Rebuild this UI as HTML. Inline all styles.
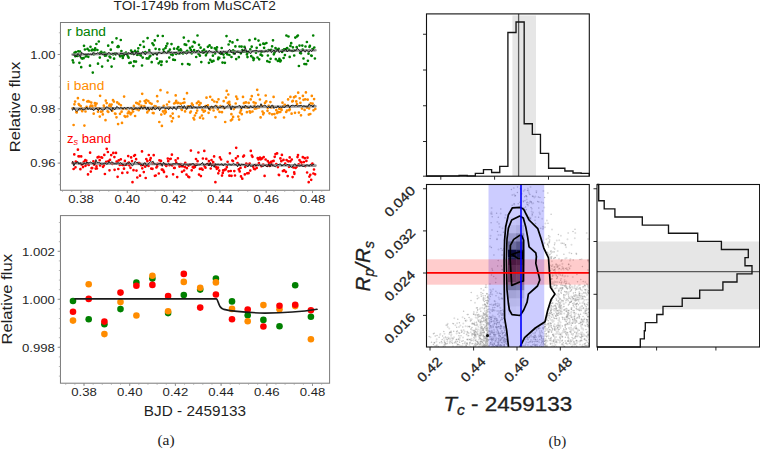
<!DOCTYPE html>
<html><head><meta charset="utf-8"><title>figure</title>
<style>
html,body{margin:0;padding:0;background:#fff;}
body{width:760px;height:449px;overflow:hidden;font-family:"Liberation Sans",sans-serif;}
svg{display:block;}
</style></head><body>
<svg width="760" height="449" viewBox="0 0 760 449">
<rect width="760" height="449" fill="#fff"/>
<path d="M72.7 60.3h0M73.4 62.5h0M74.5 52.9h0M75.3 56.2h0M75.8 52.1h0M76.6 55.5h0M77.6 56.0h0M78.3 51.3h0M79.4 62.8h0M80.0 51.5h0M81.2 67.2h0M81.6 58.2h0M82.3 58.6h0M83.6 58.2h0M84.0 45.8h0M84.9 49.5h0M85.8 56.5h0M86.4 55.2h0M87.5 48.9h0M88.3 56.8h0M89.0 50.5h0M90.0 65.7h0M90.5 46.8h0M91.7 50.4h0M92.4 49.7h0M92.8 72.6h0M93.8 54.3h0M94.7 50.2h0M95.2 48.4h0M96.4 44.0h0M97.4 50.0h0M98.0 63.7h0M98.8 41.5h0M99.8 57.6h0M100.3 52.8h0M101.3 51.9h0M102.1 66.6h0M102.7 53.4h0M103.5 53.2h0M104.4 52.7h0M105.0 55.7h0M106.2 55.5h0M106.6 54.0h0M107.9 60.6h0M108.2 45.7h0M109.5 56.5h0M110.3 57.4h0M110.8 49.7h0M111.6 66.6h0M112.3 42.4h0M113.1 54.3h0M114.1 58.7h0M115.0 53.7h0M115.7 54.3h0M116.5 38.3h0M117.5 46.9h0M118.2 46.1h0M118.7 46.8h0M120.1 56.3h0M120.8 40.0h0M121.4 51.1h0M122.3 55.5h0M122.8 57.9h0M123.6 55.5h0M124.6 53.7h0M125.2 53.6h0M126.0 52.5h0M127.3 54.7h0M128.0 56.6h0M128.6 57.7h0M129.4 63.0h0M130.7 62.7h0M131.1 50.6h0M131.7 53.7h0M132.7 52.3h0M133.4 66.1h0M134.1 61.4h0M135.0 50.9h0M136.0 61.6h0M137.1 54.8h0M137.9 51.6h0M138.3 48.3h0M139.0 54.5h0M140.2 45.0h0M140.8 55.4h0M142.0 65.5h0M142.7 57.6h0M143.4 41.5h0M143.9 46.9h0M144.6 52.5h0M145.4 52.2h0M146.7 58.4h0M147.6 38.1h0M148.5 58.4h0M149.3 50.0h0M149.6 56.7h0M150.4 55.8h0M151.7 62.2h0M152.4 43.3h0M153.2 54.3h0M153.6 45.1h0M154.8 40.4h0M155.6 48.8h0M156.4 53.6h0M157.0 58.7h0M157.8 35.8h0M158.6 63.3h0M159.3 49.4h0M160.1 61.5h0M161.3 64.9h0M161.7 61.7h0M162.8 36.0h0M163.4 49.5h0M164.0 51.8h0M165.5 48.0h0M166.3 46.1h0M166.7 61.6h0M167.4 43.6h0M168.2 51.5h0M169.3 57.6h0M169.9 49.6h0M171.1 54.5h0M171.5 44.1h0M172.7 55.1h0M173.2 59.7h0M174.1 48.7h0M174.9 60.0h0M175.5 53.5h0M176.2 53.9h0M177.3 48.7h0M178.3 47.0h0M178.9 50.5h0M179.8 53.3h0M180.6 49.4h0M181.2 50.6h0M182.2 64.1h0M183.0 53.5h0M183.8 37.6h0M184.7 44.4h0M185.5 52.2h0M186.2 44.9h0M187.3 50.9h0M188.0 64.0h0M188.5 41.1h0M189.5 64.6h0M190.0 47.9h0M190.8 49.9h0M191.7 53.3h0M192.4 46.6h0M193.8 41.9h0M194.1 50.2h0M194.9 42.6h0M196.2 57.0h0M197.0 51.3h0M197.5 35.5h0M198.6 53.9h0M199.0 44.8h0M199.9 55.7h0M200.6 47.7h0M201.3 62.1h0M202.5 51.0h0M203.1 52.7h0M204.1 49.7h0M205.2 52.0h0M205.9 55.3h0M206.3 51.6h0M207.0 53.1h0M207.9 46.8h0M208.9 62.8h0M209.6 45.4h0M210.3 59.8h0M211.5 47.7h0M211.9 61.7h0M212.9 55.7h0M213.5 60.9h0M214.8 48.3h0M215.1 53.5h0M216.4 50.0h0M217.0 47.4h0M218.1 59.2h0M218.5 57.6h0M219.3 57.9h0M220.0 53.0h0M220.9 53.7h0M221.7 48.0h0M222.5 62.6h0M223.5 54.6h0M224.0 57.5h0M224.9 62.8h0M225.9 52.8h0M226.5 36.1h0M227.3 54.3h0M228.6 44.5h0M229.4 55.0h0M229.9 41.3h0M231.1 51.3h0M231.5 57.0h0M232.5 42.4h0M233.1 50.3h0M233.8 53.5h0M234.5 51.3h0M235.4 46.4h0M236.2 59.1h0M237.4 40.0h0M237.9 51.8h0M238.8 57.2h0M239.5 46.5h0M240.8 53.3h0M241.6 46.6h0M242.4 50.0h0M242.8 51.3h0M243.7 51.7h0M244.5 46.9h0M245.4 51.4h0M245.8 51.2h0M246.9 54.4h0M247.5 57.1h0M248.4 52.2h0M249.5 40.2h0M250.3 49.3h0M251.2 56.2h0M251.7 46.7h0M253.0 57.8h0M253.5 60.1h0M254.0 58.6h0M255.2 38.9h0M256.0 52.7h0M256.7 47.8h0M257.5 57.5h0M258.5 40.6h0M259.2 59.3h0M260.1 44.8h0M260.6 54.7h0M261.5 51.9h0M262.1 55.6h0M263.3 43.7h0M264.1 47.8h0M264.5 44.0h0M265.8 51.0h0M266.4 43.0h0M267.3 61.2h0M267.9 55.5h0M268.6 50.0h0M269.5 62.0h0M270.6 58.8h0M271.2 49.8h0M272.1 46.3h0M273.0 40.3h0M273.8 54.3h0M274.4 52.7h0M275.5 48.0h0M275.8 59.2h0M276.7 49.7h0M277.9 60.9h0M278.7 48.8h0M279.4 58.8h0M280.2 61.4h0M280.8 60.6h0M282.1 52.0h0M282.6 50.3h0M283.6 58.0h0M284.1 49.3h0M284.9 55.1h0M285.9 49.2h0M286.4 35.5h0M287.2 48.2h0M288.5 36.5h0M289.2 49.9h0M289.7 56.9h0M290.4 45.9h0M291.2 43.2h0M292.2 51.0h0M292.9 47.3h0M294.2 55.5h0M294.4 50.6h0M295.3 37.6h0M296.7 47.2h0M297.1 36.3h0M297.9 35.5h0M298.9 66.0h0M299.5 45.6h0M300.1 52.9h0M301.0 53.3h0M302.3 45.6h0M302.7 49.6h0M303.5 58.5h0M304.4 64.0h0M305.5 46.5h0M306.2 64.2h0M306.9 42.0h0M307.9 60.8h0M308.5 53.7h0M309.5 46.9h0M309.9 45.9h0M311.2 55.6h0M311.7 55.8h0M312.5 49.0h0M313.2 35.5h0M314.3 47.5h0M314.9 58.5h0" stroke="#008000" stroke-width="2.7" stroke-linecap="round" fill="none"/>
<line x1="72.5" y1="54.5" x2="315.5" y2="50.2" stroke="#808080" stroke-width="2.6" stroke-opacity="0.8" stroke-linecap="round"/>
<polyline points="72.5 54.8 73.8 55.1 75.1 55.1 76.4 56.8 77.7 53.6 79.0 54.4 80.3 57.6 81.6 52.2 82.9 53.7 84.2 54.5 85.5 54.4 86.8 54.7 88.1 53.9 89.4 54.6 90.7 54.2 92.0 55.0 93.3 52.0 94.6 53.1 95.9 54.1 97.2 52.9 98.5 52.8 99.8 54.7 101.1 53.2 102.4 54.7 103.7 54.8 105.0 54.3 106.3 54.5 107.6 53.8 108.9 52.2 110.2 53.8 111.5 54.3 112.8 53.2 114.1 53.6 115.4 54.6 116.7 52.7 118.0 54.4 119.3 55.8 120.6 53.0 121.9 53.8 123.2 53.4 124.5 55.4 125.8 53.9 127.1 54.6 128.4 52.7 129.7 53.5 131.0 53.5 132.3 51.4 133.6 55.1 134.9 54.4 136.2 51.4 137.5 54.2 138.8 53.2 140.1 53.8 141.4 53.7 142.7 51.5 144.0 53.0 145.3 54.9 146.6 52.5 147.9 52.0 149.2 51.6 150.5 51.7 151.8 53.5 153.1 55.0 154.4 53.5 155.7 53.3 157.0 55.6 158.3 52.4 159.6 52.2 160.9 53.5 162.2 53.5 163.5 51.7 164.8 51.5 166.1 53.2 167.4 53.1 168.7 51.3 170.0 52.5 171.3 52.1 172.6 53.3 173.9 52.6 175.2 52.6 176.5 52.3 177.8 53.8 179.1 54.2 180.4 52.2 181.7 53.5 183.0 51.7 184.3 52.6 185.6 53.4 186.9 54.2 188.2 52.0 189.5 52.3 190.8 52.6 192.1 50.7 193.4 52.4 194.7 51.6 196.0 52.7 197.3 51.0 198.6 50.0 199.9 52.3 201.2 52.5 202.5 51.6 203.8 53.2 205.1 51.8 206.4 51.4 207.7 52.7 209.0 50.3 210.3 51.3 211.6 52.0 212.9 53.0 214.2 51.8 215.5 52.3 216.8 51.2 218.1 52.3 219.4 53.8 220.7 51.1 222.0 54.6 223.3 51.1 224.6 51.8 225.9 52.0 227.2 52.9 228.5 50.3 229.8 49.3 231.1 52.4 232.4 52.6 233.7 52.4 235.0 54.6 236.3 51.8 237.6 51.9 238.9 52.6 240.2 52.0 241.5 53.4 242.8 50.1 244.1 51.0 245.4 47.5 246.7 52.4 248.0 51.0 249.3 52.4 250.6 53.8 251.9 51.3 253.2 51.0 254.5 50.7 255.8 50.3 257.1 50.5 258.4 51.9 259.7 51.2 261.0 51.2 262.3 50.9 263.6 52.2 264.9 51.7 266.2 50.9 267.5 51.8 268.8 50.9 270.1 49.7 271.4 52.7 272.7 51.5 274.0 49.8 275.3 52.2 276.6 51.3 277.9 49.1 279.2 52.7 280.5 51.2 281.8 51.8 283.1 51.0 284.4 50.6 285.7 48.9 287.0 51.8 288.3 50.7 289.6 50.3 290.9 51.0 292.2 50.7 293.5 51.4 294.8 50.1 296.1 50.5 297.4 48.1 298.7 50.0 300.0 51.3 301.3 52.0 302.6 50.0 303.9 50.3 305.2 52.2 306.5 50.0 307.8 51.2 309.1 52.2 310.4 50.3 311.7 51.7 313.0 49.4 314.3 50.5" fill="none" stroke="#111" stroke-width="0.9" stroke-linejoin="round"/>
<path d="M72.7 108.3h0M73.6 125.0h0M74.4 104.3h0M75.1 101.6h0M76.3 112.1h0M76.7 112.4h0M77.9 98.2h0M78.7 104.0h0M79.2 104.9h0M80.0 109.3h0M80.7 106.0h0M81.9 108.7h0M82.2 111.2h0M83.4 100.0h0M84.4 125.6h0M85.3 108.4h0M85.5 111.5h0M86.6 106.8h0M87.2 101.5h0M88.2 101.2h0M89.2 101.6h0M90.1 106.8h0M90.9 105.6h0M91.3 102.6h0M92.4 105.9h0M92.9 108.7h0M93.7 113.7h0M94.9 103.2h0M95.4 105.7h0M96.6 103.6h0M97.3 108.3h0M98.0 111.7h0M98.7 108.4h0M99.8 116.6h0M100.1 95.8h0M101.0 111.7h0M102.3 111.5h0M102.8 114.4h0M103.8 105.7h0M104.4 107.7h0M105.5 120.2h0M105.8 100.7h0M106.7 103.1h0M107.6 111.3h0M108.3 112.0h0M109.3 105.8h0M109.8 104.7h0M110.8 106.5h0M111.6 104.5h0M112.3 110.8h0M113.0 100.2h0M113.9 101.6h0M115.0 113.6h0M115.5 113.8h0M116.5 117.3h0M117.2 102.4h0M118.1 124.1h0M119.0 103.9h0M120.0 113.8h0M120.9 105.3h0M121.6 111.7h0M122.0 122.9h0M123.0 108.8h0M124.1 96.6h0M124.6 116.1h0M125.3 116.8h0M126.4 109.0h0M127.4 116.3h0M127.8 113.3h0M128.7 111.6h0M129.5 112.6h0M130.6 114.3h0M131.3 113.2h0M132.3 109.3h0M133.1 111.5h0M133.9 105.9h0M134.7 108.4h0M135.1 116.0h0M136.2 102.8h0M136.6 109.2h0M137.6 103.4h0M138.7 110.2h0M139.1 104.3h0M140.0 101.5h0M140.6 107.3h0M141.5 105.8h0M142.2 93.8h0M143.3 108.2h0M144.3 106.2h0M144.7 101.1h0M145.8 103.0h0M146.4 100.2h0M147.3 112.4h0M148.3 101.1h0M148.7 110.4h0M149.9 103.0h0M150.8 108.3h0M151.6 103.9h0M152.2 109.1h0M152.8 113.0h0M153.6 113.2h0M154.6 106.0h0M155.5 107.8h0M156.0 106.7h0M157.1 96.2h0M157.6 101.3h0M159.0 107.7h0M159.3 122.0h0M160.5 90.2h0M161.3 114.6h0M161.9 125.9h0M163.0 111.4h0M163.7 105.8h0M164.6 113.6h0M165.3 110.4h0M165.8 112.2h0M167.0 104.5h0M167.4 92.5h0M168.2 107.6h0M169.1 101.8h0M169.7 107.6h0M170.6 116.2h0M171.8 121.3h0M172.7 113.6h0M173.0 118.2h0M174.1 103.5h0M175.1 102.9h0M175.7 95.4h0M176.2 100.9h0M177.6 103.1h0M178.3 102.8h0M178.8 116.6h0M179.7 107.2h0M180.7 103.7h0M181.5 109.2h0M181.9 109.9h0M183.1 103.0h0M184.1 99.0h0M184.5 102.5h0M185.1 111.4h0M186.3 108.4h0M187.0 93.2h0M187.6 106.5h0M188.5 106.8h0M189.1 106.4h0M190.2 112.6h0M190.9 111.5h0M191.9 103.7h0M192.8 105.1h0M193.5 118.1h0M194.2 119.5h0M194.9 115.5h0M196.2 113.0h0M196.9 103.2h0M197.2 110.6h0M198.5 101.7h0M199.3 105.1h0M200.0 117.7h0M200.6 103.2h0M201.9 115.5h0M202.4 109.7h0M203.1 118.5h0M203.7 111.7h0M204.9 110.9h0M205.5 106.1h0M206.5 97.7h0M207.5 107.0h0M207.9 105.3h0M208.6 112.8h0M210.0 109.6h0M210.2 96.8h0M211.6 107.1h0M212.3 99.8h0M212.9 107.8h0M213.6 110.5h0M214.3 101.5h0M215.5 117.1h0M216.4 106.0h0M217.0 102.1h0M217.8 109.3h0M218.5 99.3h0M219.5 111.9h0M220.5 106.2h0M220.7 106.9h0M222.0 112.2h0M223.0 107.1h0M223.7 101.2h0M224.2 108.2h0M225.2 122.0h0M226.0 97.6h0M226.7 90.9h0M227.8 102.9h0M228.3 94.5h0M229.3 101.9h0M229.8 104.7h0M230.9 120.4h0M231.4 114.2h0M232.1 119.4h0M233.1 116.9h0M233.8 109.1h0M234.9 107.5h0M235.7 103.5h0M236.2 96.6h0M237.3 98.9h0M238.3 116.6h0M239.1 119.6h0M240.0 112.6h0M240.8 110.7h0M241.1 109.9h0M241.8 114.2h0M243.0 96.9h0M243.9 103.2h0M244.3 102.9h0M245.1 107.2h0M246.0 102.4h0M246.9 112.2h0M247.6 107.7h0M248.7 102.9h0M249.7 111.4h0M250.2 112.6h0M250.7 99.4h0M251.8 96.2h0M252.5 111.5h0M253.6 102.3h0M254.5 105.8h0M254.8 108.7h0M255.6 103.2h0M256.5 108.3h0M257.2 89.8h0M258.3 94.8h0M258.9 107.5h0M259.9 99.5h0M260.6 117.4h0M261.8 105.9h0M262.5 111.5h0M263.2 114.3h0M263.7 113.0h0M265.0 102.9h0M265.7 95.5h0M266.3 101.3h0M267.5 110.8h0M267.8 108.0h0M268.7 105.8h0M269.5 113.3h0M270.4 102.1h0M271.5 107.5h0M272.1 114.3h0M273.1 106.9h0M273.6 96.9h0M274.4 114.1h0M275.4 117.6h0M276.3 110.2h0M277.1 113.1h0M277.8 112.0h0M278.8 112.1h0M279.2 108.7h0M280.3 112.0h0M281.2 108.9h0M281.6 109.9h0M282.5 102.7h0M283.3 106.1h0M284.0 117.5h0M284.8 104.9h0M286.2 112.0h0M287.0 110.6h0M287.7 105.8h0M288.1 99.4h0M289.2 110.2h0M289.8 109.4h0M290.4 96.9h0M291.6 113.7h0M292.3 101.4h0M292.9 100.9h0M294.0 97.3h0M295.0 112.8h0M295.5 96.4h0M296.3 101.4h0M297.0 104.1h0M298.2 92.7h0M298.9 112.6h0M299.7 98.3h0M300.4 102.8h0M301.0 115.3h0M302.0 108.6h0M302.9 95.9h0M303.5 99.8h0M304.6 109.9h0M305.2 99.3h0M305.9 92.4h0M307.0 107.6h0M307.7 99.7h0M308.8 114.6h0M309.1 108.4h0M310.3 114.0h0M310.7 103.3h0M311.8 95.9h0M312.6 103.6h0M313.5 110.3h0M314.1 99.1h0M315.3 108.9h0" stroke="#ff8c00" stroke-width="2.7" stroke-linecap="round" fill="none"/>
<line x1="72.5" y1="108.8" x2="315.5" y2="106.3" stroke="#808080" stroke-width="2.6" stroke-opacity="0.8" stroke-linecap="round"/>
<polyline points="72.5 110.5 73.8 107.3 75.1 110.0 76.4 111.1 77.7 111.1 79.0 108.5 80.3 109.0 81.6 108.5 82.9 109.8 84.2 109.9 85.5 108.8 86.8 107.1 88.1 109.5 89.4 108.1 90.7 109.3 92.0 108.9 93.3 110.5 94.6 109.9 95.9 108.0 97.2 108.9 98.5 110.6 99.8 107.9 101.1 109.0 102.4 109.9 103.7 109.9 105.0 109.1 106.3 106.9 107.6 107.0 108.9 108.7 110.2 108.9 111.5 111.3 112.8 107.4 114.1 109.7 115.4 109.2 116.7 106.4 118.0 107.4 119.3 108.5 120.6 107.7 121.9 108.1 123.2 108.8 124.5 107.3 125.8 108.8 127.1 107.5 128.4 107.6 129.7 108.8 131.0 107.5 132.3 108.5 133.6 110.0 134.9 108.2 136.2 108.0 137.5 109.0 138.8 107.7 140.1 109.3 141.4 106.6 142.7 108.8 144.0 107.5 145.3 107.1 146.6 110.1 147.9 107.0 149.2 110.0 150.5 108.8 151.8 109.7 153.1 106.8 154.4 109.3 155.7 109.6 157.0 107.8 158.3 107.8 159.6 110.7 160.9 108.1 162.2 107.4 163.5 107.1 164.8 108.4 166.1 108.2 167.4 108.0 168.7 109.8 170.0 107.4 171.3 108.3 172.6 109.4 173.9 106.6 175.2 108.9 176.5 109.8 177.8 106.2 179.1 106.4 180.4 106.5 181.7 105.6 183.0 108.2 184.3 105.5 185.6 108.2 186.9 109.3 188.2 105.8 189.5 107.2 190.8 105.4 192.1 108.5 193.4 106.7 194.7 107.2 196.0 107.6 197.3 108.1 198.6 107.1 199.9 107.5 201.2 106.8 202.5 107.6 203.8 106.1 205.1 107.5 206.4 105.2 207.7 106.8 209.0 109.6 210.3 107.5 211.6 105.9 212.9 107.7 214.2 106.2 215.5 105.4 216.8 106.5 218.1 108.1 219.4 107.7 220.7 107.2 222.0 106.2 223.3 106.0 224.6 108.8 225.9 107.5 227.2 106.1 228.5 104.8 229.8 105.6 231.1 110.0 232.4 105.8 233.7 107.1 235.0 107.4 236.3 106.9 237.6 106.8 238.9 105.5 240.2 105.9 241.5 109.0 242.8 106.2 244.1 108.0 245.4 105.1 246.7 106.7 248.0 107.3 249.3 108.2 250.6 105.7 251.9 107.6 253.2 107.4 254.5 106.1 255.8 107.5 257.1 105.9 258.4 106.0 259.7 106.9 261.0 103.7 262.3 106.7 263.6 105.7 264.9 105.1 266.2 106.3 267.5 107.7 268.8 106.3 270.1 108.2 271.4 105.4 272.7 105.2 274.0 108.5 275.3 107.2 276.6 107.8 277.9 105.7 279.2 107.6 280.5 107.0 281.8 107.4 283.1 106.7 284.4 108.0 285.7 105.9 287.0 105.5 288.3 104.9 289.6 107.9 290.9 105.7 292.2 105.3 293.5 105.4 294.8 106.0 296.1 105.0 297.4 106.2 298.7 105.8 300.0 105.8 301.3 105.3 302.6 106.5 303.9 105.9 305.2 106.5 306.5 106.7 307.8 106.8 309.1 103.8 310.4 105.7 311.7 105.4 313.0 107.2 314.3 104.5" fill="none" stroke="#111" stroke-width="0.9" stroke-linejoin="round"/>
<path d="M72.9 162.9h0M73.6 169.0h0M74.3 154.4h0M75.5 167.3h0M75.8 161.5h0M76.6 162.4h0M77.9 149.7h0M78.5 156.3h0M79.0 156.4h0M80.4 169.2h0M81.2 156.4h0M81.5 164.4h0M82.6 164.2h0M83.0 167.1h0M83.8 161.9h0M85.3 160.2h0M85.5 165.8h0M86.3 160.7h0M87.5 163.9h0M88.0 174.4h0M88.7 165.0h0M90.1 152.7h0M90.8 171.6h0M91.6 168.2h0M92.2 168.1h0M93.4 161.3h0M94.0 164.6h0M94.8 163.5h0M95.7 168.6h0M96.5 166.3h0M96.9 168.5h0M97.6 157.4h0M98.7 156.9h0M99.7 160.2h0M100.1 165.4h0M101.3 157.3h0M102.1 157.7h0M103.0 166.8h0M103.9 165.4h0M104.3 154.9h0M104.9 174.0h0M106.2 161.8h0M106.7 148.8h0M107.9 152.0h0M108.5 161.0h0M109.5 170.3h0M110.0 159.9h0M111.2 155.1h0M111.9 163.5h0M112.4 164.0h0M113.3 152.9h0M114.4 157.1h0M114.6 169.8h0M116.0 152.9h0M116.6 161.7h0M117.6 176.8h0M118.3 169.0h0M118.7 160.4h0M119.8 165.0h0M120.8 159.3h0M121.7 164.6h0M122.3 172.9h0M123.0 165.1h0M124.0 168.7h0M124.9 160.9h0M125.7 164.5h0M126.5 164.7h0M127.4 172.6h0M128.2 156.1h0M128.8 162.7h0M129.3 165.3h0M130.5 167.8h0M131.1 157.4h0M132.0 161.1h0M132.5 182.2h0M133.5 170.2h0M134.1 155.8h0M135.0 155.0h0M136.1 159.2h0M136.5 170.6h0M137.3 177.5h0M138.4 163.0h0M139.3 163.0h0M140.0 175.7h0M141.2 165.2h0M142.0 151.4h0M142.3 168.3h0M143.1 165.0h0M143.8 172.1h0M145.2 166.7h0M145.7 178.0h0M146.3 159.1h0M147.4 161.2h0M148.5 166.0h0M148.8 155.0h0M150.1 160.1h0M150.7 158.2h0M151.2 168.6h0M152.5 168.8h0M152.7 163.7h0M153.7 155.2h0M154.9 175.8h0M155.7 175.5h0M156.4 167.5h0M157.2 166.3h0M157.6 163.8h0M158.8 173.5h0M159.4 160.3h0M160.4 164.2h0M161.0 160.9h0M161.8 169.6h0M162.5 169.6h0M163.4 170.5h0M164.0 172.1h0M165.3 164.7h0M166.3 165.9h0M166.6 176.6h0M167.8 158.6h0M168.2 161.2h0M169.5 165.2h0M170.2 159.0h0M170.7 158.8h0M171.9 154.7h0M172.2 165.5h0M173.1 174.3h0M174.1 168.0h0M174.7 167.9h0M175.6 160.3h0M176.3 162.5h0M177.2 177.1h0M177.9 158.3h0M179.2 164.6h0M179.5 166.6h0M180.8 164.0h0M181.5 166.1h0M182.0 171.8h0M182.8 166.2h0M184.1 170.5h0M184.9 167.1h0M185.3 162.9h0M186.5 174.6h0M186.9 168.2h0M188.2 176.6h0M188.6 165.6h0M189.2 177.2h0M190.3 164.5h0M190.9 150.6h0M191.7 170.3h0M192.8 167.2h0M193.7 167.7h0M194.5 165.3h0M194.9 167.0h0M196.0 159.0h0M196.6 164.6h0M197.6 161.2h0M198.4 152.5h0M199.0 174.6h0M199.9 168.9h0M200.9 176.1h0M201.5 168.7h0M202.6 169.7h0M202.9 158.5h0M204.3 150.9h0M204.7 166.5h0M205.5 167.7h0M206.3 158.9h0M207.2 164.0h0M208.1 164.2h0M208.9 161.1h0M209.9 164.2h0M210.7 168.5h0M211.5 160.1h0M212.1 164.6h0M213.2 162.2h0M214.1 156.4h0M214.6 164.9h0M215.4 182.2h0M216.0 166.9h0M216.8 168.8h0M218.0 167.7h0M218.3 173.3h0M219.2 170.7h0M219.9 157.4h0M221.1 159.5h0M222.0 175.6h0M222.8 172.9h0M223.2 170.4h0M224.3 170.2h0M225.0 169.7h0M225.7 169.5h0M226.8 167.2h0M227.6 161.8h0M228.5 171.3h0M229.4 175.7h0M229.9 153.3h0M230.8 171.0h0M231.5 175.8h0M232.3 160.5h0M233.0 161.1h0M234.3 171.1h0M235.0 175.5h0M235.9 158.3h0M236.2 147.8h0M237.5 163.0h0M237.9 156.3h0M238.8 169.4h0M239.7 171.4h0M240.5 167.9h0M241.0 176.4h0M242.3 178.7h0M243.2 156.6h0M244.0 155.7h0M244.8 174.4h0M245.2 167.0h0M246.3 163.7h0M247.2 173.3h0M247.9 164.9h0M248.6 173.2h0M249.7 163.6h0M250.3 170.6h0M250.8 150.9h0M251.8 155.5h0M252.5 156.8h0M253.2 166.7h0M254.0 168.8h0M255.0 169.2h0M255.7 165.1h0M256.7 167.9h0M257.7 158.2h0M258.4 159.4h0M258.9 163.2h0M260.0 157.7h0M260.8 159.3h0M261.4 166.2h0M262.2 158.4h0M263.2 164.6h0M263.7 157.0h0M264.6 175.9h0M265.6 159.5h0M266.7 165.4h0M267.1 165.7h0M267.8 161.2h0M269.1 162.9h0M269.6 166.0h0M270.4 164.9h0M271.1 161.9h0M272.4 164.9h0M272.8 161.2h0M273.6 160.9h0M274.7 156.8h0M275.5 154.1h0M276.3 164.0h0M277.1 153.4h0M277.9 167.1h0M278.8 174.8h0M279.1 175.1h0M280.4 158.4h0M281.3 161.2h0M281.9 154.9h0M282.9 171.1h0M283.5 159.9h0M284.2 170.4h0M285.2 163.5h0M285.9 171.8h0M286.6 160.1h0M287.7 176.1h0M288.3 161.3h0M289.0 166.8h0M289.7 157.4h0M290.4 161.3h0M291.8 159.5h0M292.6 177.1h0M293.4 167.4h0M294.2 172.3h0M294.4 173.8h0M295.6 168.0h0M296.7 166.7h0M297.5 157.1h0M298.0 155.1h0M298.7 164.3h0M299.5 160.2h0M300.7 161.9h0M301.4 162.4h0M302.0 165.0h0M302.8 157.2h0M303.9 162.1h0M304.8 158.2h0M305.4 166.1h0M306.4 160.9h0M307.1 172.5h0M307.5 157.7h0M308.7 182.2h0M309.4 176.6h0M310.3 174.8h0M311.2 179.8h0M311.7 164.7h0M312.4 163.5h0M313.4 173.5h0M314.0 169.5h0M315.1 174.3h0" stroke="#ff0000" stroke-width="2.7" stroke-linecap="round" fill="none"/>
<line x1="72.5" y1="163.2" x2="315.5" y2="165.6" stroke="#808080" stroke-width="2.6" stroke-opacity="0.8" stroke-linecap="round"/>
<polyline points="72.5 161.0 73.8 166.1 75.1 163.0 76.4 163.0 77.7 161.5 79.0 164.3 80.3 162.7 81.6 164.9 82.9 164.3 84.2 163.3 85.5 164.2 86.8 162.1 88.1 163.0 89.4 162.7 90.7 161.9 92.0 163.4 93.3 163.2 94.6 165.1 95.9 159.6 97.2 162.7 98.5 162.4 99.8 162.9 101.1 164.0 102.4 164.0 103.7 163.5 105.0 163.0 106.3 164.1 107.6 164.0 108.9 161.4 110.2 163.3 111.5 162.0 112.8 162.2 114.1 163.8 115.4 163.7 116.7 163.8 118.0 162.6 119.3 163.4 120.6 162.6 121.9 164.1 123.2 164.5 124.5 165.7 125.8 165.2 127.1 162.8 128.4 163.2 129.7 162.7 131.0 164.1 132.3 166.1 133.6 164.6 134.9 161.3 136.2 162.4 137.5 162.4 138.8 164.4 140.1 163.9 141.4 164.2 142.7 165.9 144.0 163.0 145.3 162.9 146.6 166.2 147.9 164.3 149.2 163.1 150.5 161.6 151.8 162.2 153.1 161.2 154.4 164.1 155.7 164.1 157.0 165.2 158.3 163.9 159.6 163.3 160.9 163.2 162.2 166.3 163.5 162.1 164.8 164.3 166.1 164.2 167.4 164.8 168.7 163.7 170.0 164.7 171.3 165.1 172.6 164.0 173.9 163.7 175.2 164.0 176.5 163.1 177.8 164.0 179.1 163.9 180.4 164.5 181.7 165.8 183.0 165.8 184.3 163.8 185.6 165.0 186.9 164.7 188.2 165.2 189.5 164.4 190.8 164.7 192.1 163.8 193.4 163.5 194.7 165.4 196.0 165.9 197.3 165.2 198.6 164.9 199.9 164.8 201.2 164.0 202.5 162.4 203.8 165.3 205.1 164.7 206.4 163.9 207.7 163.4 209.0 166.0 210.3 162.5 211.6 166.6 212.9 165.3 214.2 167.3 215.5 163.8 216.8 164.6 218.1 164.1 219.4 164.8 220.7 164.4 222.0 163.8 223.3 165.9 224.6 163.8 225.9 164.1 227.2 165.4 228.5 164.1 229.8 164.3 231.1 165.2 232.4 164.4 233.7 163.4 235.0 164.7 236.3 164.6 237.6 166.8 238.9 163.6 240.2 166.0 241.5 164.0 242.8 164.5 244.1 164.5 245.4 165.2 246.7 165.9 248.0 166.9 249.3 164.2 250.6 166.5 251.9 166.1 253.2 165.9 254.5 164.1 255.8 166.0 257.1 164.9 258.4 165.4 259.7 164.7 261.0 165.8 262.3 166.4 263.6 166.4 264.9 164.9 266.2 166.3 267.5 166.8 268.8 164.1 270.1 166.8 271.4 163.6 272.7 165.8 274.0 165.9 275.3 166.9 276.6 165.5 277.9 164.7 279.2 164.3 280.5 163.8 281.8 166.1 283.1 165.0 284.4 164.5 285.7 165.9 287.0 164.4 288.3 164.8 289.6 164.8 290.9 167.3 292.2 167.1 293.5 165.2 294.8 163.6 296.1 165.7 297.4 165.5 298.7 165.8 300.0 166.1 301.3 165.1 302.6 166.5 303.9 166.4 305.2 165.7 306.5 165.0 307.8 165.0 309.1 166.3 310.4 164.3 311.7 165.4 313.0 164.7 314.3 164.0" fill="none" stroke="#111" stroke-width="0.9" stroke-linejoin="round"/>
<text x="67.00" y="35.60" font-size="12" text-anchor="start" fill="#008000" font-family='"Liberation Sans", sans-serif' textLength="38.94" lengthAdjust="spacingAndGlyphs" >r band</text>
<text x="67.00" y="89.50" font-size="12" text-anchor="start" fill="#ff8c00" font-family='"Liberation Sans", sans-serif' textLength="37.34" lengthAdjust="spacingAndGlyphs" >i band</text>
<text x="67" y="142.8" font-size="12" fill="#ff0000" font-family='"Liberation Sans", sans-serif' textLength="44" lengthAdjust="spacingAndGlyphs">z<tspan font-size="8.4" dy="2.2" font-style="italic">s</tspan><tspan dy="-2.2"> band</tspan></text>
<rect x="60.45" y="22.50" width="269.15" height="167.75" fill="none" stroke="#7a7a7a" stroke-width="1" />
<line x1="81.00" y1="190.25" x2="81.00" y2="193.05" stroke="#7a7a7a" stroke-width="0.8" />
<text x="81.00" y="203.20" font-size="11.5" text-anchor="middle" fill="#1f1f1f" font-family='"Liberation Sans", sans-serif' textLength="25.61" lengthAdjust="spacingAndGlyphs" >0.38</text>
<line x1="127.30" y1="190.25" x2="127.30" y2="193.05" stroke="#7a7a7a" stroke-width="0.8" />
<text x="127.30" y="203.20" font-size="11.5" text-anchor="middle" fill="#1f1f1f" font-family='"Liberation Sans", sans-serif' textLength="25.61" lengthAdjust="spacingAndGlyphs" >0.40</text>
<line x1="173.60" y1="190.25" x2="173.60" y2="193.05" stroke="#7a7a7a" stroke-width="0.8" />
<text x="173.60" y="203.20" font-size="11.5" text-anchor="middle" fill="#1f1f1f" font-family='"Liberation Sans", sans-serif' textLength="25.61" lengthAdjust="spacingAndGlyphs" >0.42</text>
<line x1="219.90" y1="190.25" x2="219.90" y2="193.05" stroke="#7a7a7a" stroke-width="0.8" />
<text x="219.90" y="203.20" font-size="11.5" text-anchor="middle" fill="#1f1f1f" font-family='"Liberation Sans", sans-serif' textLength="25.61" lengthAdjust="spacingAndGlyphs" >0.44</text>
<line x1="266.20" y1="190.25" x2="266.20" y2="193.05" stroke="#7a7a7a" stroke-width="0.8" />
<text x="266.20" y="203.20" font-size="11.5" text-anchor="middle" fill="#1f1f1f" font-family='"Liberation Sans", sans-serif' textLength="25.61" lengthAdjust="spacingAndGlyphs" >0.46</text>
<line x1="312.50" y1="190.25" x2="312.50" y2="193.05" stroke="#7a7a7a" stroke-width="0.8" />
<text x="312.50" y="203.20" font-size="11.5" text-anchor="middle" fill="#1f1f1f" font-family='"Liberation Sans", sans-serif' textLength="25.61" lengthAdjust="spacingAndGlyphs" >0.48</text>
<line x1="62.48" y1="190.25" x2="62.48" y2="191.85" stroke="#999" stroke-width="0.7" />
<line x1="71.74" y1="190.25" x2="71.74" y2="191.85" stroke="#999" stroke-width="0.7" />
<line x1="81.00" y1="190.25" x2="81.00" y2="191.85" stroke="#999" stroke-width="0.7" />
<line x1="90.26" y1="190.25" x2="90.26" y2="191.85" stroke="#999" stroke-width="0.7" />
<line x1="99.52" y1="190.25" x2="99.52" y2="191.85" stroke="#999" stroke-width="0.7" />
<line x1="108.78" y1="190.25" x2="108.78" y2="191.85" stroke="#999" stroke-width="0.7" />
<line x1="118.04" y1="190.25" x2="118.04" y2="191.85" stroke="#999" stroke-width="0.7" />
<line x1="127.30" y1="190.25" x2="127.30" y2="191.85" stroke="#999" stroke-width="0.7" />
<line x1="136.56" y1="190.25" x2="136.56" y2="191.85" stroke="#999" stroke-width="0.7" />
<line x1="145.82" y1="190.25" x2="145.82" y2="191.85" stroke="#999" stroke-width="0.7" />
<line x1="155.08" y1="190.25" x2="155.08" y2="191.85" stroke="#999" stroke-width="0.7" />
<line x1="164.34" y1="190.25" x2="164.34" y2="191.85" stroke="#999" stroke-width="0.7" />
<line x1="173.60" y1="190.25" x2="173.60" y2="191.85" stroke="#999" stroke-width="0.7" />
<line x1="182.86" y1="190.25" x2="182.86" y2="191.85" stroke="#999" stroke-width="0.7" />
<line x1="192.12" y1="190.25" x2="192.12" y2="191.85" stroke="#999" stroke-width="0.7" />
<line x1="201.38" y1="190.25" x2="201.38" y2="191.85" stroke="#999" stroke-width="0.7" />
<line x1="210.64" y1="190.25" x2="210.64" y2="191.85" stroke="#999" stroke-width="0.7" />
<line x1="219.90" y1="190.25" x2="219.90" y2="191.85" stroke="#999" stroke-width="0.7" />
<line x1="229.16" y1="190.25" x2="229.16" y2="191.85" stroke="#999" stroke-width="0.7" />
<line x1="238.42" y1="190.25" x2="238.42" y2="191.85" stroke="#999" stroke-width="0.7" />
<line x1="247.68" y1="190.25" x2="247.68" y2="191.85" stroke="#999" stroke-width="0.7" />
<line x1="256.94" y1="190.25" x2="256.94" y2="191.85" stroke="#999" stroke-width="0.7" />
<line x1="266.20" y1="190.25" x2="266.20" y2="191.85" stroke="#999" stroke-width="0.7" />
<line x1="275.46" y1="190.25" x2="275.46" y2="191.85" stroke="#999" stroke-width="0.7" />
<line x1="284.72" y1="190.25" x2="284.72" y2="191.85" stroke="#999" stroke-width="0.7" />
<line x1="293.98" y1="190.25" x2="293.98" y2="191.85" stroke="#999" stroke-width="0.7" />
<line x1="303.24" y1="190.25" x2="303.24" y2="191.85" stroke="#999" stroke-width="0.7" />
<line x1="312.50" y1="190.25" x2="312.50" y2="191.85" stroke="#999" stroke-width="0.7" />
<line x1="321.76" y1="190.25" x2="321.76" y2="191.85" stroke="#999" stroke-width="0.7" />
<line x1="57.65" y1="54.50" x2="60.45" y2="54.50" stroke="#7a7a7a" stroke-width="0.8" />
<text x="55.45" y="58.70" font-size="11.3" text-anchor="end" fill="#1f1f1f" font-family='"Liberation Sans", sans-serif' textLength="25.16" lengthAdjust="spacingAndGlyphs" >1.00</text>
<line x1="57.65" y1="108.80" x2="60.45" y2="108.80" stroke="#7a7a7a" stroke-width="0.8" />
<text x="55.45" y="113.00" font-size="11.3" text-anchor="end" fill="#1f1f1f" font-family='"Liberation Sans", sans-serif' textLength="25.16" lengthAdjust="spacingAndGlyphs" >0.98</text>
<line x1="57.65" y1="163.10" x2="60.45" y2="163.10" stroke="#7a7a7a" stroke-width="0.8" />
<text x="55.45" y="167.30" font-size="11.3" text-anchor="end" fill="#1f1f1f" font-family='"Liberation Sans", sans-serif' textLength="25.16" lengthAdjust="spacingAndGlyphs" >0.96</text>
<line x1="58.85" y1="184.82" x2="60.45" y2="184.82" stroke="#999" stroke-width="0.7" />
<line x1="58.85" y1="173.96" x2="60.45" y2="173.96" stroke="#999" stroke-width="0.7" />
<line x1="58.85" y1="163.10" x2="60.45" y2="163.10" stroke="#999" stroke-width="0.7" />
<line x1="58.85" y1="152.24" x2="60.45" y2="152.24" stroke="#999" stroke-width="0.7" />
<line x1="58.85" y1="141.38" x2="60.45" y2="141.38" stroke="#999" stroke-width="0.7" />
<line x1="58.85" y1="130.52" x2="60.45" y2="130.52" stroke="#999" stroke-width="0.7" />
<line x1="58.85" y1="119.66" x2="60.45" y2="119.66" stroke="#999" stroke-width="0.7" />
<line x1="58.85" y1="108.80" x2="60.45" y2="108.80" stroke="#999" stroke-width="0.7" />
<line x1="58.85" y1="97.94" x2="60.45" y2="97.94" stroke="#999" stroke-width="0.7" />
<line x1="58.85" y1="87.08" x2="60.45" y2="87.08" stroke="#999" stroke-width="0.7" />
<line x1="58.85" y1="76.22" x2="60.45" y2="76.22" stroke="#999" stroke-width="0.7" />
<line x1="58.85" y1="65.36" x2="60.45" y2="65.36" stroke="#999" stroke-width="0.7" />
<line x1="58.85" y1="54.50" x2="60.45" y2="54.50" stroke="#999" stroke-width="0.7" />
<line x1="58.85" y1="43.64" x2="60.45" y2="43.64" stroke="#999" stroke-width="0.7" />
<line x1="58.85" y1="32.78" x2="60.45" y2="32.78" stroke="#999" stroke-width="0.7" />
<text x="194.70" y="9.70" font-size="12.6" text-anchor="middle" fill="#1f1f1f" font-family='"Liberation Sans", sans-serif' textLength="162.28" lengthAdjust="spacingAndGlyphs" >TOI-1749b from MuSCAT2</text>
<text x="19.60" y="107.00" font-size="14.6" text-anchor="middle" fill="#1f1f1f" font-family='"Liberation Sans", sans-serif' textLength="90.61" lengthAdjust="spacingAndGlyphs" transform="rotate(-90 19.60 107.00)" >Relative flux</text>
<circle cx="73.0" cy="301.0" r="3.3" fill="#008000"/>
<circle cx="88.7" cy="319.3" r="3.3" fill="#008000"/>
<circle cx="104.4" cy="324.2" r="3.3" fill="#008000"/>
<circle cx="120.5" cy="309.1" r="3.3" fill="#008000"/>
<circle cx="136.4" cy="282.6" r="3.3" fill="#008000"/>
<circle cx="152.4" cy="278.6" r="3.3" fill="#008000"/>
<circle cx="168.1" cy="313.1" r="3.3" fill="#008000"/>
<circle cx="183.8" cy="295.1" r="3.3" fill="#008000"/>
<circle cx="200.2" cy="289.6" r="3.3" fill="#008000"/>
<circle cx="215.9" cy="278.6" r="3.3" fill="#008000"/>
<circle cx="232.0" cy="301.4" r="3.3" fill="#008000"/>
<circle cx="247.7" cy="315.2" r="3.3" fill="#008000"/>
<circle cx="263.4" cy="319.9" r="3.3" fill="#008000"/>
<circle cx="279.5" cy="326.3" r="3.3" fill="#008000"/>
<circle cx="295.2" cy="285.3" r="3.3" fill="#008000"/>
<circle cx="310.9" cy="316.7" r="3.3" fill="#008000"/>
<circle cx="73.0" cy="320.6" r="3.3" fill="#ff8c00"/>
<circle cx="88.7" cy="284.3" r="3.3" fill="#ff8c00"/>
<circle cx="104.4" cy="334.1" r="3.3" fill="#ff8c00"/>
<circle cx="120.5" cy="302.1" r="3.3" fill="#ff8c00"/>
<circle cx="136.4" cy="315.5" r="3.3" fill="#ff8c00"/>
<circle cx="152.4" cy="275.8" r="3.3" fill="#ff8c00"/>
<circle cx="168.1" cy="311.2" r="3.3" fill="#ff8c00"/>
<circle cx="183.8" cy="281.9" r="3.3" fill="#ff8c00"/>
<circle cx="200.2" cy="287.7" r="3.3" fill="#ff8c00"/>
<circle cx="215.9" cy="282.4" r="3.3" fill="#ff8c00"/>
<circle cx="232.0" cy="308.9" r="3.3" fill="#ff8c00"/>
<circle cx="247.7" cy="321.2" r="3.3" fill="#ff8c00"/>
<circle cx="263.4" cy="305.1" r="3.3" fill="#ff8c00"/>
<circle cx="279.5" cy="309.3" r="3.3" fill="#ff8c00"/>
<circle cx="295.2" cy="306.1" r="3.3" fill="#ff8c00"/>
<circle cx="310.9" cy="339.2" r="3.3" fill="#ff8c00"/>
<circle cx="73.0" cy="311.8" r="3.3" fill="#ff0000"/>
<circle cx="88.7" cy="298.9" r="3.3" fill="#ff0000"/>
<circle cx="104.4" cy="321.6" r="3.3" fill="#ff0000"/>
<circle cx="120.5" cy="292.6" r="3.3" fill="#ff0000"/>
<circle cx="136.4" cy="285.8" r="3.3" fill="#ff0000"/>
<circle cx="152.4" cy="284.9" r="3.3" fill="#ff0000"/>
<circle cx="168.1" cy="296.1" r="3.3" fill="#ff0000"/>
<circle cx="183.8" cy="273.9" r="3.3" fill="#ff0000"/>
<circle cx="200.2" cy="307.6" r="3.3" fill="#ff0000"/>
<circle cx="215.9" cy="294.5" r="3.3" fill="#ff0000"/>
<circle cx="232.0" cy="319.3" r="3.3" fill="#ff0000"/>
<circle cx="247.7" cy="309.5" r="3.3" fill="#ff0000"/>
<circle cx="263.4" cy="326.5" r="3.3" fill="#ff0000"/>
<circle cx="279.5" cy="305.7" r="3.3" fill="#ff0000"/>
<circle cx="295.2" cy="304.8" r="3.3" fill="#ff0000"/>
<circle cx="310.9" cy="310.2" r="3.3" fill="#ff0000"/>
<path d="M75 298.9 L216.3 298.9 C217.5 299 218.5 304 220 306.5 C221 308.3 222.5 309 224 309.4 C232 311.3 246 312.6 265 313.1 C280 313.1 298 312.4 317 309.3" fill="none" stroke="#1a1a1a" stroke-width="1.6" stroke-linecap="round"/>
<rect x="60.45" y="215.60" width="269.15" height="167.60" fill="none" stroke="#7a7a7a" stroke-width="1" />
<line x1="84.00" y1="383.20" x2="84.00" y2="386.00" stroke="#7a7a7a" stroke-width="0.8" />
<text x="84.00" y="396.40" font-size="11.5" text-anchor="middle" fill="#1f1f1f" font-family='"Liberation Sans", sans-serif' textLength="25.61" lengthAdjust="spacingAndGlyphs" >0.38</text>
<line x1="129.70" y1="383.20" x2="129.70" y2="386.00" stroke="#7a7a7a" stroke-width="0.8" />
<text x="129.70" y="396.40" font-size="11.5" text-anchor="middle" fill="#1f1f1f" font-family='"Liberation Sans", sans-serif' textLength="25.61" lengthAdjust="spacingAndGlyphs" >0.40</text>
<line x1="175.40" y1="383.20" x2="175.40" y2="386.00" stroke="#7a7a7a" stroke-width="0.8" />
<text x="175.40" y="396.40" font-size="11.5" text-anchor="middle" fill="#1f1f1f" font-family='"Liberation Sans", sans-serif' textLength="25.61" lengthAdjust="spacingAndGlyphs" >0.42</text>
<line x1="221.10" y1="383.20" x2="221.10" y2="386.00" stroke="#7a7a7a" stroke-width="0.8" />
<text x="221.10" y="396.40" font-size="11.5" text-anchor="middle" fill="#1f1f1f" font-family='"Liberation Sans", sans-serif' textLength="25.61" lengthAdjust="spacingAndGlyphs" >0.44</text>
<line x1="266.80" y1="383.20" x2="266.80" y2="386.00" stroke="#7a7a7a" stroke-width="0.8" />
<text x="266.80" y="396.40" font-size="11.5" text-anchor="middle" fill="#1f1f1f" font-family='"Liberation Sans", sans-serif' textLength="25.61" lengthAdjust="spacingAndGlyphs" >0.46</text>
<line x1="312.50" y1="383.20" x2="312.50" y2="386.00" stroke="#7a7a7a" stroke-width="0.8" />
<text x="312.50" y="396.40" font-size="11.5" text-anchor="middle" fill="#1f1f1f" font-family='"Liberation Sans", sans-serif' textLength="25.61" lengthAdjust="spacingAndGlyphs" >0.48</text>
<line x1="65.72" y1="383.20" x2="65.72" y2="384.80" stroke="#999" stroke-width="0.7" />
<line x1="74.86" y1="383.20" x2="74.86" y2="384.80" stroke="#999" stroke-width="0.7" />
<line x1="84.00" y1="383.20" x2="84.00" y2="384.80" stroke="#999" stroke-width="0.7" />
<line x1="93.14" y1="383.20" x2="93.14" y2="384.80" stroke="#999" stroke-width="0.7" />
<line x1="102.28" y1="383.20" x2="102.28" y2="384.80" stroke="#999" stroke-width="0.7" />
<line x1="111.42" y1="383.20" x2="111.42" y2="384.80" stroke="#999" stroke-width="0.7" />
<line x1="120.56" y1="383.20" x2="120.56" y2="384.80" stroke="#999" stroke-width="0.7" />
<line x1="129.70" y1="383.20" x2="129.70" y2="384.80" stroke="#999" stroke-width="0.7" />
<line x1="138.84" y1="383.20" x2="138.84" y2="384.80" stroke="#999" stroke-width="0.7" />
<line x1="147.98" y1="383.20" x2="147.98" y2="384.80" stroke="#999" stroke-width="0.7" />
<line x1="157.12" y1="383.20" x2="157.12" y2="384.80" stroke="#999" stroke-width="0.7" />
<line x1="166.26" y1="383.20" x2="166.26" y2="384.80" stroke="#999" stroke-width="0.7" />
<line x1="175.40" y1="383.20" x2="175.40" y2="384.80" stroke="#999" stroke-width="0.7" />
<line x1="184.54" y1="383.20" x2="184.54" y2="384.80" stroke="#999" stroke-width="0.7" />
<line x1="193.68" y1="383.20" x2="193.68" y2="384.80" stroke="#999" stroke-width="0.7" />
<line x1="202.82" y1="383.20" x2="202.82" y2="384.80" stroke="#999" stroke-width="0.7" />
<line x1="211.96" y1="383.20" x2="211.96" y2="384.80" stroke="#999" stroke-width="0.7" />
<line x1="221.10" y1="383.20" x2="221.10" y2="384.80" stroke="#999" stroke-width="0.7" />
<line x1="230.24" y1="383.20" x2="230.24" y2="384.80" stroke="#999" stroke-width="0.7" />
<line x1="239.38" y1="383.20" x2="239.38" y2="384.80" stroke="#999" stroke-width="0.7" />
<line x1="248.52" y1="383.20" x2="248.52" y2="384.80" stroke="#999" stroke-width="0.7" />
<line x1="257.66" y1="383.20" x2="257.66" y2="384.80" stroke="#999" stroke-width="0.7" />
<line x1="266.80" y1="383.20" x2="266.80" y2="384.80" stroke="#999" stroke-width="0.7" />
<line x1="275.94" y1="383.20" x2="275.94" y2="384.80" stroke="#999" stroke-width="0.7" />
<line x1="285.08" y1="383.20" x2="285.08" y2="384.80" stroke="#999" stroke-width="0.7" />
<line x1="294.22" y1="383.20" x2="294.22" y2="384.80" stroke="#999" stroke-width="0.7" />
<line x1="303.36" y1="383.20" x2="303.36" y2="384.80" stroke="#999" stroke-width="0.7" />
<line x1="312.50" y1="383.20" x2="312.50" y2="384.80" stroke="#999" stroke-width="0.7" />
<line x1="321.64" y1="383.20" x2="321.64" y2="384.80" stroke="#999" stroke-width="0.7" />
<line x1="57.65" y1="251.30" x2="60.45" y2="251.30" stroke="#7a7a7a" stroke-width="0.8" />
<text x="54.95" y="255.50" font-size="11.5" text-anchor="end" fill="#1f1f1f" font-family='"Liberation Sans", sans-serif' textLength="32.92" lengthAdjust="spacingAndGlyphs" >1.002</text>
<line x1="57.65" y1="299.30" x2="60.45" y2="299.30" stroke="#7a7a7a" stroke-width="0.8" />
<text x="54.95" y="303.50" font-size="11.5" text-anchor="end" fill="#1f1f1f" font-family='"Liberation Sans", sans-serif' textLength="32.92" lengthAdjust="spacingAndGlyphs" >1.000</text>
<line x1="57.65" y1="347.30" x2="60.45" y2="347.30" stroke="#7a7a7a" stroke-width="0.8" />
<text x="54.95" y="351.50" font-size="11.5" text-anchor="end" fill="#1f1f1f" font-family='"Liberation Sans", sans-serif' textLength="32.92" lengthAdjust="spacingAndGlyphs" >0.998</text>
<line x1="58.85" y1="376.10" x2="60.45" y2="376.10" stroke="#999" stroke-width="0.7" />
<line x1="58.85" y1="366.50" x2="60.45" y2="366.50" stroke="#999" stroke-width="0.7" />
<line x1="58.85" y1="356.90" x2="60.45" y2="356.90" stroke="#999" stroke-width="0.7" />
<line x1="58.85" y1="347.30" x2="60.45" y2="347.30" stroke="#999" stroke-width="0.7" />
<line x1="58.85" y1="337.70" x2="60.45" y2="337.70" stroke="#999" stroke-width="0.7" />
<line x1="58.85" y1="328.10" x2="60.45" y2="328.10" stroke="#999" stroke-width="0.7" />
<line x1="58.85" y1="318.50" x2="60.45" y2="318.50" stroke="#999" stroke-width="0.7" />
<line x1="58.85" y1="308.90" x2="60.45" y2="308.90" stroke="#999" stroke-width="0.7" />
<line x1="58.85" y1="299.30" x2="60.45" y2="299.30" stroke="#999" stroke-width="0.7" />
<line x1="58.85" y1="289.70" x2="60.45" y2="289.70" stroke="#999" stroke-width="0.7" />
<line x1="58.85" y1="280.10" x2="60.45" y2="280.10" stroke="#999" stroke-width="0.7" />
<line x1="58.85" y1="270.50" x2="60.45" y2="270.50" stroke="#999" stroke-width="0.7" />
<line x1="58.85" y1="260.90" x2="60.45" y2="260.90" stroke="#999" stroke-width="0.7" />
<line x1="58.85" y1="251.30" x2="60.45" y2="251.30" stroke="#999" stroke-width="0.7" />
<line x1="58.85" y1="241.70" x2="60.45" y2="241.70" stroke="#999" stroke-width="0.7" />
<line x1="58.85" y1="232.10" x2="60.45" y2="232.10" stroke="#999" stroke-width="0.7" />
<line x1="58.85" y1="222.50" x2="60.45" y2="222.50" stroke="#999" stroke-width="0.7" />
<text x="12.40" y="299.30" font-size="14.6" text-anchor="middle" fill="#1f1f1f" font-family='"Liberation Sans", sans-serif' textLength="90.61" lengthAdjust="spacingAndGlyphs" transform="rotate(-90 12.40 299.30)" >Relative flux</text>
<text x="195.00" y="415.60" font-size="14.2" text-anchor="middle" fill="#1f1f1f" font-family='"Liberation Sans", sans-serif' textLength="102.26" lengthAdjust="spacingAndGlyphs" >BJD - 2459133</text>
<text x="166.00" y="445.20" font-size="14.4" text-anchor="middle" fill="#222" font-family='"Liberation Serif", serif' textLength="17.20" lengthAdjust="spacingAndGlyphs" >(a)</text>
<rect x="512.40" y="15.50" width="23.60" height="160.70" fill="#e6e6e6" stroke="none" stroke-width="1" />
<line x1="518.60" y1="13.90" x2="518.60" y2="176.20" stroke="#5a5a5a" stroke-width="1.3" />
<path d="M426.50 176.20 L426.50 176.00 L434.64 176.00 L434.64 176.00 L442.78 176.00 L442.78 175.80 L450.92 175.80 L450.92 175.80 L459.06 175.80 L459.06 175.30 L467.20 175.30 L467.20 175.80 L475.34 175.80 L475.34 173.40 L483.48 173.40 L483.48 169.60 L491.62 169.60 L491.62 172.50 L499.76 172.50 L499.76 166.30 L507.90 166.30 L507.90 32.50 L516.04 32.50 L516.04 22.00 L524.18 22.00 L524.18 123.70 L532.32 123.70 L532.32 134.30 L540.46 134.30 L540.46 153.30 L548.60 153.30 L548.60 168.20 L556.74 168.20 L556.74 168.20 L564.88 168.20 L564.88 171.00 L573.02 171.00 L573.02 173.00 L581.16 173.00 L581.16 173.40 L589.30 173.40 L589.30 176.20" fill="none" stroke="#151515" stroke-width="1.35" stroke-linejoin="miter"/>
<rect x="426.50" y="13.90" width="162.80" height="162.30" fill="none" stroke="#111" stroke-width="1.1" />
<line x1="423.00" y1="34.25" x2="426.50" y2="34.25" stroke="#111" stroke-width="0.9" />
<line x1="423.00" y1="70.00" x2="426.50" y2="70.00" stroke="#111" stroke-width="0.9" />
<line x1="423.00" y1="105.75" x2="426.50" y2="105.75" stroke="#111" stroke-width="0.9" />
<line x1="423.00" y1="141.50" x2="426.50" y2="141.50" stroke="#111" stroke-width="0.9" />
<line x1="423.00" y1="176.20" x2="426.50" y2="176.20" stroke="#111" stroke-width="0.9" />
<line x1="440.80" y1="176.20" x2="440.80" y2="179.70" stroke="#111" stroke-width="0.9" />
<line x1="494.60" y1="176.20" x2="494.60" y2="179.70" stroke="#111" stroke-width="0.9" />
<line x1="548.50" y1="176.20" x2="548.50" y2="179.70" stroke="#111" stroke-width="0.9" />
<clipPath id="c2d"><rect x="426.5" y="184.5" width="162.79999999999995" height="162.5"/></clipPath>
<g clip-path="url(#c2d)">
<filter id="bl" x="-5%" y="-5%" width="110%" height="110%"><feGaussianBlur stdDeviation="0.55"/></filter>
<g filter="url(#bl)">
<path d="M493.2 325.5h0M585.2 305.6h0M559.8 265.3h0M581.1 333.6h0M556.6 285.2h0M493.9 255.1h0M539.3 322.9h0M496.2 323.4h0M568.7 339.0h0M574.2 304.3h0M483.0 333.1h0M588.2 293.4h0M483.2 329.9h0M450.3 332.2h0M491.6 207.9h0M478.1 329.5h0M549.9 306.5h0M544.6 319.0h0M457.0 339.5h0M506.0 342.5h0M548.4 238.2h0M523.6 335.0h0M490.7 343.0h0M534.0 327.4h0M487.1 315.6h0M497.4 346.9h0M529.9 331.2h0M487.7 299.1h0M545.8 333.9h0M556.8 240.6h0M488.4 346.3h0M573.4 330.5h0M477.1 334.3h0M564.2 298.5h0M558.6 297.6h0M553.4 284.7h0M487.7 303.7h0M485.1 328.5h0M504.4 322.5h0M575.3 296.4h0M487.7 335.9h0M464.7 331.4h0M568.8 338.6h0M480.4 331.4h0M559.8 307.3h0M564.3 330.0h0M478.8 339.5h0M475.1 332.1h0M474.3 345.4h0M472.0 335.4h0M545.0 336.1h0M487.5 297.6h0M572.9 319.9h0M486.2 327.2h0M574.1 319.6h0M468.4 339.6h0M482.9 344.6h0M588.0 270.1h0M499.4 340.3h0M538.6 341.2h0M576.8 297.3h0M492.1 341.7h0M569.1 310.4h0M477.8 344.0h0M584.1 334.5h0M562.8 301.3h0M440.3 334.1h0M556.9 342.5h0M552.8 269.4h0M487.6 341.5h0M579.3 341.6h0M566.1 247.3h0M467.7 326.5h0M541.9 315.3h0M481.0 331.7h0M483.3 336.0h0M567.2 319.3h0M583.5 308.2h0M556.5 266.7h0M483.9 319.9h0M559.4 333.2h0M524.3 332.1h0M543.5 324.4h0M559.1 290.2h0M474.8 334.5h0M487.8 303.6h0M570.4 259.0h0M554.6 282.0h0M491.1 344.4h0M538.7 336.8h0M578.6 301.0h0M561.7 307.3h0M559.1 272.9h0M502.5 228.2h0M574.5 313.4h0M479.1 321.4h0M546.1 307.8h0M504.2 339.1h0M496.7 322.9h0M548.6 242.6h0M570.1 327.8h0M486.4 324.3h0M581.4 319.5h0M544.9 324.3h0M554.4 294.7h0M492.1 340.5h0M553.6 275.4h0M459.4 345.1h0M506.8 340.0h0M582.4 323.6h0M548.4 253.2h0M485.9 338.0h0M542.2 218.7h0M587.3 321.8h0M500.8 312.8h0M440.0 334.8h0M502.8 309.9h0M546.6 310.5h0M560.8 312.8h0M532.9 320.6h0M492.3 294.4h0M551.4 313.5h0M483.6 290.2h0M576.6 303.7h0M480.4 335.9h0M544.8 295.5h0M551.5 346.4h0M459.6 340.2h0M576.0 326.0h0M502.6 270.1h0M461.5 346.1h0M584.7 304.3h0M487.4 310.6h0M564.4 276.6h0M480.3 329.9h0M488.5 318.3h0M556.5 287.4h0M442.0 342.8h0M555.1 271.0h0M564.2 313.5h0M477.7 331.5h0M576.2 253.6h0M545.4 329.0h0M546.3 281.9h0M459.0 338.9h0M485.9 306.9h0M490.0 337.5h0M557.7 328.3h0M506.6 335.4h0M570.0 320.1h0M493.7 325.3h0M588.2 259.8h0M557.7 250.9h0M558.3 329.7h0M546.8 313.5h0M543.0 303.8h0M542.3 294.6h0M482.3 332.9h0M581.6 259.3h0M552.0 229.6h0M554.7 267.0h0M498.0 338.2h0M546.7 288.7h0M577.1 287.2h0M506.1 305.3h0M578.0 329.6h0M575.5 295.3h0M552.6 282.3h0M572.0 329.2h0M570.7 301.7h0M485.6 329.8h0M587.9 317.1h0M514.1 194.5h0M486.8 326.4h0M587.7 325.0h0M555.0 329.9h0M544.2 313.1h0M470.8 332.3h0M524.3 338.3h0M525.5 333.1h0M542.1 305.9h0M537.6 324.0h0M565.9 311.1h0M491.6 327.8h0M556.2 336.9h0M485.6 344.9h0M557.5 325.0h0M586.5 322.4h0M490.0 283.9h0M547.0 312.2h0M485.1 317.6h0M481.6 324.2h0M487.6 340.7h0M518.6 218.5h0M549.7 293.6h0M482.9 335.9h0M583.5 334.2h0M466.6 320.5h0M486.6 314.2h0M550.9 281.7h0M536.7 341.4h0M478.3 326.7h0M465.5 344.9h0M567.7 276.2h0M449.3 334.0h0M475.7 317.5h0M566.7 268.1h0M520.3 188.6h0M550.8 283.5h0M555.3 342.1h0M548.6 317.5h0M486.4 329.5h0M556.1 329.1h0M567.6 316.4h0M551.4 305.9h0M559.2 319.8h0M497.2 322.2h0M564.4 346.8h0M495.1 338.9h0M446.5 337.7h0M453.0 346.3h0M587.8 291.3h0M497.8 306.2h0M525.8 320.9h0M546.5 324.8h0M575.9 335.6h0M580.5 321.9h0M575.5 300.9h0M526.3 341.9h0M559.8 340.5h0M553.7 283.2h0M581.6 327.4h0M576.6 340.7h0M549.2 242.7h0M574.0 316.8h0M568.3 341.0h0M499.0 223.8h0M487.5 330.4h0M534.3 197.6h0M534.6 337.2h0M480.3 330.7h0M487.5 344.5h0M569.6 323.9h0M580.9 326.0h0M541.9 304.9h0M583.8 313.1h0M526.7 338.7h0M549.7 309.3h0M485.2 339.4h0M565.4 245.3h0M558.3 296.4h0M550.5 343.5h0M481.1 334.0h0M500.2 341.8h0M571.3 312.1h0M498.9 313.1h0M489.5 309.3h0M558.4 327.3h0M588.4 344.8h0M478.6 297.7h0M572.4 287.7h0M470.3 342.3h0M476.7 334.5h0M562.4 263.8h0M554.4 324.3h0M478.0 319.7h0M586.1 346.3h0M569.8 329.0h0M581.1 325.2h0M548.6 291.8h0M499.4 315.8h0M579.6 293.3h0M547.5 341.0h0M543.2 310.2h0M494.7 310.4h0M578.6 285.4h0M523.0 320.7h0M468.7 333.2h0M544.6 341.0h0M523.7 335.2h0M454.3 318.3h0M542.9 339.0h0M479.1 315.8h0M542.9 321.9h0M543.0 293.5h0M488.3 346.4h0M495.5 319.0h0M525.4 323.2h0M492.5 332.2h0M582.3 332.6h0M558.6 269.3h0M576.7 309.5h0M496.1 337.4h0M463.6 330.0h0M456.9 346.2h0M587.9 286.7h0M552.5 252.0h0M458.6 332.7h0M537.3 344.6h0M574.4 320.8h0M549.3 331.7h0M497.0 327.7h0M549.0 255.0h0M542.6 210.9h0M484.2 336.5h0M544.2 256.3h0M479.7 333.3h0M528.5 190.2h0M573.2 344.2h0M588.8 343.5h0M560.9 285.0h0M519.1 330.0h0M556.2 298.5h0M481.5 342.2h0M481.7 326.6h0M476.6 308.0h0M490.7 333.4h0M588.1 239.0h0M502.1 334.5h0M491.5 291.2h0M499.1 335.0h0M497.7 303.4h0M505.3 226.3h0M526.1 195.9h0M547.4 253.2h0M575.1 295.2h0M559.0 274.6h0M571.2 301.3h0M530.5 217.7h0M523.7 318.4h0M475.0 302.8h0M537.5 328.8h0M545.0 227.2h0M538.8 202.0h0M485.5 314.5h0M523.1 332.7h0M546.7 299.5h0M576.0 340.7h0M586.8 289.4h0M480.3 346.1h0M475.0 335.5h0M462.6 317.2h0M538.3 320.6h0M558.4 293.7h0M549.5 331.8h0M539.7 331.1h0M582.7 344.7h0M496.1 334.3h0M492.0 339.3h0M584.9 286.4h0M501.8 339.7h0M486.5 343.3h0M588.7 286.1h0M581.4 321.3h0M540.9 344.8h0M529.1 202.9h0M486.4 336.4h0M493.7 343.3h0M481.5 331.1h0M503.4 328.1h0M460.4 325.5h0M488.4 317.3h0M474.6 334.6h0M487.4 333.4h0M500.2 307.8h0M498.6 342.4h0M535.4 196.5h0M552.6 289.9h0M562.3 332.7h0M485.0 304.3h0M502.4 345.9h0M575.3 233.1h0M490.8 337.3h0M495.8 278.4h0M574.9 337.2h0M583.0 328.8h0M507.0 228.7h0M571.1 330.7h0M564.0 304.0h0M582.7 296.9h0M545.1 289.1h0M584.8 285.3h0M573.5 299.4h0M492.7 337.5h0M546.4 312.4h0M506.0 342.1h0M520.3 336.6h0M536.1 345.7h0M544.0 309.5h0M494.3 330.6h0M469.4 326.5h0M573.7 328.6h0M545.5 303.1h0M490.1 312.7h0M554.6 257.7h0M485.8 321.7h0M489.6 326.6h0M589.3 324.5h0M560.4 328.1h0M570.7 330.5h0M487.6 314.8h0M553.7 334.3h0M570.7 342.0h0M462.1 331.6h0M526.2 218.4h0M487.6 346.8h0M530.5 187.1h0M546.1 330.0h0M499.5 321.6h0M557.9 311.1h0M554.2 269.8h0M490.8 321.6h0M503.5 268.3h0M518.5 331.0h0M499.6 227.1h0M543.6 345.7h0M500.6 337.6h0M565.1 286.2h0M558.9 334.2h0M518.7 343.3h0M480.9 345.7h0M554.8 337.8h0M579.7 308.3h0M446.2 325.2h0M541.9 324.2h0M587.6 331.8h0M546.5 274.7h0M556.7 332.6h0M499.2 316.8h0M484.3 344.8h0M579.5 308.7h0M567.4 333.6h0M561.8 281.9h0M538.9 335.4h0M565.1 295.3h0M518.8 338.1h0M526.2 326.9h0M481.8 315.7h0M559.0 303.5h0M573.9 298.8h0M586.7 233.1h0M493.5 321.4h0M561.9 341.0h0M495.8 341.8h0M572.8 277.1h0M546.4 341.9h0M548.3 267.4h0M481.1 294.6h0M548.2 272.6h0M502.7 338.0h0M572.6 346.3h0M503.4 310.5h0M571.1 327.4h0M550.9 310.8h0M584.7 325.6h0M579.7 336.8h0M587.8 305.0h0M562.3 275.8h0M534.3 327.0h0M547.3 312.6h0M431.3 346.8h0M527.6 337.0h0M580.1 307.2h0M585.3 282.1h0M546.5 340.2h0M472.2 324.1h0M543.4 296.3h0M525.1 210.2h0M555.5 344.9h0M543.4 290.7h0M547.3 324.6h0M459.7 337.5h0M574.1 302.8h0M575.9 313.5h0M533.8 320.5h0M560.5 327.2h0M552.4 299.7h0M570.0 260.6h0M560.0 333.9h0M491.5 212.3h0M559.2 240.2h0M539.8 328.2h0M452.5 337.9h0M451.4 334.6h0M559.0 258.7h0M579.8 303.2h0M554.9 340.5h0M493.8 336.8h0M556.5 331.5h0M574.5 286.6h0M489.1 308.8h0M525.2 339.6h0M474.0 331.7h0M518.7 344.6h0M493.0 316.8h0M482.5 327.9h0M561.2 243.3h0M555.9 312.2h0M551.1 281.7h0M493.5 329.5h0M466.9 343.6h0M523.8 332.2h0M554.3 336.3h0M473.6 340.7h0M499.4 304.3h0M544.6 286.0h0M561.4 334.7h0M562.4 264.1h0M562.7 288.0h0M558.3 331.5h0M480.0 342.3h0M480.3 308.2h0M444.3 344.4h0M477.8 342.1h0M532.7 196.0h0M487.6 340.0h0M504.0 344.9h0M544.7 319.4h0M498.7 297.4h0M587.8 317.0h0M487.0 337.8h0M471.7 319.2h0M586.7 315.0h0M474.4 330.5h0M552.7 321.9h0M541.6 202.3h0M480.4 320.0h0M547.8 293.4h0M541.8 301.0h0M531.1 325.9h0M497.0 238.8h0M556.9 315.3h0M487.0 345.8h0M555.1 327.8h0M575.1 299.8h0M579.9 341.6h0M514.1 204.5h0M539.1 318.7h0M566.5 257.9h0M495.9 345.6h0M476.4 341.1h0M498.5 249.4h0M574.8 238.2h0M486.3 329.0h0M553.1 341.1h0M544.8 251.1h0M545.4 328.5h0M491.8 346.7h0M452.0 340.8h0M568.1 336.4h0M499.5 345.0h0M536.4 191.0h0M545.9 328.4h0M520.9 226.2h0M547.8 289.9h0M545.6 341.0h0M565.3 258.5h0M541.6 307.8h0M563.6 346.6h0M430.5 337.3h0M485.8 306.2h0M535.4 216.9h0M583.6 322.0h0M583.0 287.4h0M495.3 301.6h0M449.3 328.6h0M558.6 305.2h0M553.5 290.1h0M552.8 286.7h0M476.4 314.4h0M546.3 239.2h0M543.8 318.7h0M487.7 335.5h0M524.2 322.5h0M501.2 345.4h0M542.4 321.9h0M572.6 322.8h0M572.6 339.9h0M523.3 327.1h0M463.3 323.5h0M505.2 295.4h0M518.8 335.6h0M566.9 333.8h0M564.2 282.4h0M560.8 310.2h0M571.2 312.7h0M500.7 213.4h0M558.5 340.1h0M488.7 324.8h0M554.7 329.1h0M585.3 296.9h0M577.4 296.0h0M566.6 294.1h0M486.7 339.7h0M571.8 323.3h0M569.0 283.5h0M550.4 279.3h0M474.6 322.6h0M572.1 297.4h0M485.8 316.2h0M551.9 283.7h0M501.9 346.5h0M527.8 324.1h0M542.5 313.2h0M523.4 200.7h0M581.6 346.4h0M529.2 193.4h0M486.5 287.2h0M547.8 286.2h0M478.7 320.1h0M548.4 335.6h0M583.3 329.8h0M564.3 297.9h0M475.3 346.7h0M550.2 339.5h0M582.4 298.7h0M489.2 330.5h0M486.7 307.1h0M534.4 343.9h0M482.4 335.2h0M500.1 337.6h0M541.9 292.6h0M524.7 320.5h0M544.3 207.6h0M580.1 288.8h0M484.1 308.7h0M568.7 264.6h0M554.4 343.1h0M571.3 323.1h0M547.0 317.9h0M559.8 337.5h0M562.0 311.8h0M543.4 191.1h0M555.9 315.4h0M570.2 285.7h0M498.8 344.1h0M556.7 318.6h0M501.3 331.4h0M546.9 220.6h0M506.5 332.8h0M551.7 320.5h0M490.8 213.6h0M494.1 329.6h0M572.7 335.1h0M499.4 299.3h0M587.6 335.9h0M495.1 341.2h0M553.1 296.0h0M572.9 322.3h0M504.9 339.9h0M534.8 196.9h0M453.2 338.2h0M486.5 328.8h0M482.0 332.8h0M505.9 249.1h0M542.2 323.7h0M482.9 334.2h0M551.9 279.1h0M581.9 335.8h0M519.5 325.0h0M581.0 332.4h0M575.6 299.9h0M514.3 204.5h0M487.0 319.1h0M448.1 337.5h0M485.3 320.1h0M494.9 316.8h0M565.5 321.0h0M455.4 325.3h0M532.2 215.5h0M582.2 334.8h0M493.4 321.0h0M463.0 337.6h0M571.0 317.1h0M563.7 309.9h0M487.3 339.5h0M588.3 285.4h0M529.6 327.7h0M543.9 320.6h0M549.9 257.1h0M576.5 299.0h0M569.4 252.7h0M480.1 338.2h0M519.1 324.9h0M476.0 333.4h0M464.9 346.7h0M563.9 295.3h0M486.5 308.7h0M505.7 306.3h0M489.4 295.0h0M531.5 227.8h0M480.0 315.7h0M546.2 346.2h0M491.0 317.5h0M496.7 328.7h0M542.2 306.1h0M500.6 310.9h0M559.0 273.8h0M434.1 342.7h0M483.3 346.4h0M467.1 339.6h0M469.5 345.0h0M537.1 321.0h0M493.9 324.0h0M522.0 324.4h0M533.5 327.3h0M534.9 333.7h0M491.3 336.7h0M534.4 329.6h0M472.4 334.0h0M447.3 341.5h0M579.8 288.0h0M556.7 287.9h0M487.3 331.7h0M545.4 298.3h0M486.9 320.9h0M546.7 286.7h0M571.3 296.5h0M504.9 335.5h0M527.9 188.4h0M581.6 328.6h0M588.4 322.5h0M525.8 225.7h0M493.1 289.2h0M531.0 339.7h0M436.4 341.6h0M577.9 330.2h0M548.1 296.9h0M539.4 212.4h0M562.4 336.5h0M583.7 321.2h0M548.9 256.0h0M560.4 325.3h0M466.7 346.5h0M499.7 326.9h0M456.5 346.6h0M487.4 329.9h0M552.6 320.1h0M539.8 332.7h0M579.6 294.9h0M566.6 286.9h0M552.2 343.5h0M581.6 324.9h0M582.4 303.1h0M492.6 316.4h0M567.5 323.3h0M550.4 319.5h0M487.6 324.1h0M544.6 243.1h0M505.0 217.7h0M535.2 339.8h0M484.9 298.2h0M470.5 319.3h0M571.5 244.8h0M545.8 346.3h0M561.5 335.7h0M544.6 268.3h0M520.9 212.8h0M551.0 323.6h0M584.6 318.5h0M548.6 281.3h0M526.2 229.3h0M480.4 329.6h0M558.6 324.2h0M563.0 330.9h0M533.4 333.5h0M557.6 282.1h0M485.8 326.8h0M493.6 332.8h0M496.6 340.4h0M547.8 192.9h0M503.1 318.2h0M505.6 215.1h0M580.9 297.1h0M467.5 335.6h0M579.2 291.9h0M494.2 330.1h0M561.2 301.7h0M559.9 326.0h0M582.1 293.8h0M587.3 337.4h0M492.0 317.6h0M486.8 325.5h0M486.1 336.8h0M553.4 309.3h0M447.7 323.7h0M554.8 242.9h0M449.7 343.1h0M485.1 345.9h0M504.4 281.3h0M572.8 299.0h0M530.8 345.9h0M488.0 296.5h0M570.7 331.6h0M544.7 260.2h0M525.9 331.4h0M492.7 315.6h0M493.2 337.0h0M523.9 323.6h0M502.7 313.6h0M566.9 344.0h0M581.9 308.4h0M470.2 339.4h0M540.2 333.0h0M514.1 228.0h0M539.1 342.3h0M492.8 326.8h0M490.4 336.7h0M545.6 275.2h0M521.7 193.8h0M535.6 320.8h0M547.9 308.3h0M501.7 331.7h0M586.9 309.3h0M530.2 335.7h0M578.5 295.3h0M500.4 307.9h0M578.0 335.7h0M525.0 332.4h0M553.8 321.1h0M489.4 299.2h0M499.4 327.9h0M545.9 259.7h0M444.5 333.7h0M499.8 312.6h0M527.8 322.1h0M525.5 323.4h0M560.9 235.8h0M583.9 292.4h0M542.8 305.8h0M568.8 327.9h0M528.7 192.2h0M545.0 326.4h0M530.8 318.4h0M574.7 315.3h0M490.0 246.6h0M495.3 317.8h0M478.8 334.4h0M505.6 296.4h0M545.8 252.0h0M449.8 338.2h0M561.8 344.6h0M490.5 289.8h0M564.7 298.7h0M549.5 267.0h0M445.3 344.2h0M540.1 334.4h0M565.3 276.1h0M493.4 346.5h0M489.9 323.1h0M563.3 331.3h0M488.7 336.6h0M545.4 223.6h0M503.7 336.6h0M568.2 233.0h0M506.2 339.3h0M473.6 339.6h0M513.8 188.0h0M575.4 343.9h0M477.7 344.5h0M588.0 299.4h0M554.5 281.6h0M517.6 224.6h0M565.4 319.8h0M549.1 325.9h0M492.9 344.6h0M480.6 345.1h0M487.0 336.9h0M477.4 329.6h0M492.0 268.7h0M545.9 269.0h0M581.5 306.3h0M526.7 199.6h0M549.9 316.3h0M478.6 336.0h0M493.1 324.5h0M485.1 327.9h0M541.5 313.7h0M531.6 211.4h0M499.0 338.3h0M544.5 346.2h0M503.3 335.9h0M551.5 346.9h0M543.3 227.7h0M531.3 336.8h0M577.0 333.0h0M559.6 342.5h0M553.0 345.7h0M552.0 314.4h0M485.2 346.1h0M494.8 319.1h0M554.5 294.0h0M551.9 261.2h0M544.7 303.3h0M545.3 335.7h0M485.1 321.7h0M542.9 309.4h0M486.8 338.8h0M559.1 294.6h0M550.5 278.6h0M482.2 307.7h0M551.3 340.7h0M542.5 340.6h0M503.2 341.6h0M531.8 208.8h0M535.2 336.2h0M571.4 312.1h0M506.0 333.4h0M506.8 300.6h0M497.1 346.7h0M481.6 342.6h0M552.8 302.9h0M486.5 338.0h0M554.0 313.8h0M568.6 292.3h0M581.3 340.0h0M493.9 343.6h0M557.7 339.8h0M500.9 325.9h0M466.0 346.1h0M549.9 318.6h0M567.3 292.6h0M491.0 316.8h0M502.6 332.7h0M544.3 298.4h0M547.8 243.7h0M576.7 343.2h0M503.3 315.1h0M445.0 342.4h0M574.9 346.9h0M485.5 342.7h0M549.1 324.9h0M487.2 303.1h0M570.0 301.9h0M487.3 300.9h0M568.2 312.9h0M545.9 320.1h0M578.6 317.4h0M546.1 293.0h0M532.1 203.4h0M569.7 288.4h0M499.1 324.0h0M483.9 313.5h0M545.2 305.0h0M542.8 290.8h0M551.3 300.3h0M578.7 294.4h0M479.9 309.1h0M488.9 330.3h0M483.3 329.3h0M572.3 299.5h0M457.1 323.2h0M541.8 338.2h0M454.0 337.2h0M544.1 248.5h0M451.6 338.2h0M549.9 296.8h0M577.0 342.0h0M558.2 323.0h0M557.5 313.5h0M582.1 322.5h0M554.5 324.6h0M584.9 335.5h0M451.1 335.8h0M533.1 212.4h0M551.1 307.3h0M558.8 311.0h0M545.3 320.7h0M479.4 315.8h0M559.6 298.5h0M553.6 247.8h0M567.3 319.8h0M482.3 342.3h0M543.4 343.7h0M496.1 321.3h0M556.5 265.2h0M569.2 267.6h0M544.0 312.9h0M545.4 335.0h0M484.9 346.2h0M558.5 320.3h0M482.8 341.2h0M537.4 339.5h0M561.7 308.7h0M560.0 342.2h0M523.7 191.1h0M492.0 230.0h0M491.2 310.0h0M569.3 313.5h0M564.0 243.5h0M535.5 321.7h0M504.7 298.2h0M533.6 339.0h0M477.3 318.0h0M538.7 326.9h0M550.3 298.4h0M552.4 320.5h0M548.7 323.2h0M523.9 324.7h0M566.9 315.7h0M487.3 331.9h0M522.7 319.2h0M525.2 219.4h0M565.9 329.6h0M555.1 345.1h0M528.2 205.4h0M447.8 326.9h0M436.7 339.2h0M549.1 279.5h0M558.0 265.7h0M471.5 338.7h0M535.4 336.5h0M569.7 321.5h0M491.7 321.3h0M588.4 333.7h0M564.6 280.1h0M485.2 336.9h0M584.1 303.5h0M501.3 298.5h0M485.1 326.2h0M494.4 335.4h0M465.6 326.3h0M550.4 298.3h0M547.1 311.3h0M506.6 322.0h0M531.2 202.2h0M482.5 340.5h0M526.8 204.2h0M486.8 343.1h0M532.3 329.9h0M444.3 340.3h0M563.6 269.6h0M499.7 339.4h0M487.6 318.1h0M568.3 293.0h0M546.8 275.8h0M525.6 344.0h0M484.4 299.0h0M445.2 346.8h0M545.5 305.1h0M587.3 314.5h0M559.5 288.6h0M503.4 322.5h0M456.6 333.5h0M498.7 326.9h0M457.6 344.4h0M533.6 339.2h0M577.6 331.4h0M561.2 269.5h0M584.8 289.5h0M523.2 323.2h0M491.2 330.5h0M572.0 286.4h0M488.3 295.3h0M565.7 302.5h0M548.9 296.8h0M490.0 325.8h0M567.5 239.2h0M522.2 228.9h0M579.0 333.8h0M548.1 303.6h0M532.9 320.7h0M556.5 274.5h0M450.0 339.7h0M497.7 345.2h0M487.9 328.1h0M547.6 315.3h0M555.9 333.9h0M487.8 334.7h0M494.7 323.0h0M568.5 293.2h0M561.8 285.0h0M522.8 327.3h0M544.8 339.0h0M553.1 334.6h0M547.9 331.0h0M544.0 309.9h0M554.2 305.8h0M504.6 332.1h0M580.3 309.6h0M561.0 284.7h0M491.3 343.8h0M473.6 314.0h0M504.6 338.6h0M556.9 255.6h0M578.8 316.6h0M472.5 330.2h0M574.4 306.9h0M531.5 328.6h0M585.0 313.6h0M584.2 299.9h0M480.9 341.7h0M487.9 334.7h0M483.8 332.9h0M526.3 318.2h0M573.4 322.1h0M574.4 288.2h0M487.5 323.0h0M475.9 328.3h0M563.3 332.2h0M446.4 339.0h0M538.5 321.2h0M584.2 335.4h0M558.0 327.2h0M587.0 295.0h0M533.2 203.2h0M569.2 341.3h0M579.8 285.0h0M567.2 288.6h0M538.7 328.7h0M497.1 329.7h0M500.7 235.1h0M532.2 332.7h0M555.3 284.9h0M545.7 339.1h0M497.4 331.9h0M560.6 322.6h0M563.1 301.5h0M486.3 344.2h0M557.4 265.0h0M486.7 342.4h0M550.9 339.5h0M563.3 344.9h0M579.6 297.0h0M524.8 189.7h0M576.8 335.1h0M530.1 326.4h0M486.8 293.8h0M474.1 324.1h0M578.5 288.8h0M492.1 326.2h0M486.6 336.9h0M544.5 261.2h0M502.4 299.0h0M574.8 285.5h0M479.2 339.2h0M490.6 235.8h0M494.1 336.9h0M484.8 305.4h0M553.6 282.8h0M541.5 315.7h0M491.7 337.3h0M544.0 336.8h0M552.1 268.7h0M483.2 295.7h0M544.3 333.6h0M562.3 337.1h0M570.7 344.1h0M514.9 195.9h0M584.9 346.5h0M483.4 334.4h0M568.3 335.0h0M502.5 342.8h0M505.0 315.1h0M487.0 315.7h0M492.6 346.5h0M546.9 336.0h0M491.3 318.9h0M502.6 343.5h0M555.3 274.1h0M562.3 266.8h0M500.9 340.6h0M500.0 336.4h0M480.9 329.1h0M556.1 308.0h0M498.5 235.1h0M487.6 320.3h0M555.5 326.7h0M554.8 339.0h0M567.4 344.3h0M579.7 310.6h0M499.3 326.8h0M562.3 317.3h0M520.1 342.8h0M535.8 340.9h0M585.1 311.6h0M529.8 342.3h0M574.6 327.3h0M465.8 321.3h0M484.1 332.5h0M586.7 319.8h0M548.6 336.4h0M566.4 281.6h0M536.5 345.0h0M532.6 326.8h0M490.5 325.7h0M571.1 290.5h0M557.1 331.8h0M550.6 313.5h0M551.0 258.6h0M487.0 326.4h0M541.5 306.4h0M496.2 332.1h0M576.5 328.9h0M563.3 267.9h0M565.7 324.8h0M504.6 240.3h0M582.7 320.1h0M560.0 299.0h0M560.3 334.5h0M527.6 332.3h0M474.2 332.2h0M459.8 338.1h0M489.5 333.6h0M504.5 346.7h0M541.3 340.0h0M575.5 322.2h0M474.1 345.9h0M557.2 333.6h0M556.7 295.2h0M497.3 292.9h0M589.0 291.6h0M481.3 343.7h0M544.9 303.1h0M477.3 295.8h0M486.6 308.9h0M559.4 321.3h0M553.2 335.1h0M553.4 296.6h0M521.6 335.9h0M500.6 329.0h0M561.1 333.8h0M580.0 344.4h0M585.8 290.0h0M523.3 208.3h0M541.0 297.2h0M571.5 309.0h0M583.5 301.7h0M589.2 346.7h0M589.1 324.2h0M582.1 290.6h0M475.8 339.4h0M585.2 339.4h0M535.1 339.3h0M456.2 343.0h0M550.2 282.1h0M580.0 308.9h0M545.0 339.6h0M542.9 344.6h0M494.5 334.6h0M484.0 339.4h0M498.0 333.0h0M526.5 225.0h0M542.1 323.9h0M555.7 339.7h0M503.9 339.0h0M524.1 335.3h0M547.3 289.6h0M493.9 334.9h0M560.5 304.3h0M486.9 328.4h0M555.4 305.3h0M506.4 330.2h0M522.8 229.6h0M560.0 305.3h0M549.8 236.8h0M484.2 346.6h0M487.6 342.5h0M524.1 326.0h0M549.9 297.7h0M481.0 320.5h0M480.8 340.2h0M558.8 268.4h0M497.4 221.9h0M566.4 317.1h0M547.7 273.1h0M503.2 342.3h0M531.1 321.2h0M497.1 328.0h0M482.4 333.5h0M542.7 346.8h0M588.5 261.6h0M533.3 336.6h0M527.9 345.0h0M545.0 299.4h0M487.1 341.1h0M553.3 316.0h0M479.3 344.3h0M581.0 324.9h0M569.8 286.0h0M587.9 345.5h0M576.0 327.7h0M550.5 326.1h0M489.0 334.1h0M459.3 346.0h0M486.6 343.8h0M544.4 344.6h0M552.1 300.0h0M563.5 303.9h0M553.1 296.5h0M588.1 302.8h0M460.7 346.2h0M480.1 322.6h0M573.7 312.7h0M490.3 333.3h0M462.7 346.1h0M544.0 267.4h0M491.6 304.5h0M492.0 311.0h0M496.6 326.8h0" stroke="#000" stroke-opacity="0.13" stroke-width="2.0" stroke-linecap="round" fill="none"/>
<path d="M570.8 340.8h0M486.7 336.9h0M502.1 254.9h0M541.0 318.3h0M585.7 292.2h0M500.6 293.7h0M552.1 303.0h0M556.8 313.4h0M585.3 289.7h0M493.0 345.6h0M494.1 321.0h0M507.0 341.6h0M560.9 292.3h0M573.3 305.7h0M542.9 321.7h0M570.0 284.8h0M587.7 319.8h0M551.0 279.5h0M474.4 334.7h0M483.2 313.0h0M573.1 333.8h0M456.6 331.5h0M532.0 226.3h0M468.1 314.6h0M558.4 313.2h0M545.2 302.0h0M491.3 338.8h0M556.0 303.6h0M545.0 311.8h0M473.9 337.6h0M485.3 295.7h0M491.4 247.4h0M567.0 310.1h0M499.8 335.3h0M486.5 330.5h0M558.4 234.6h0M525.2 329.9h0M443.3 346.2h0M493.7 309.9h0M519.9 325.1h0M536.1 337.3h0M551.9 266.5h0M569.8 302.5h0M471.1 340.6h0M524.6 213.8h0M565.4 331.8h0M486.4 341.1h0M569.5 318.4h0M545.0 276.7h0M569.3 286.9h0M488.5 300.8h0M477.3 341.9h0M571.4 301.5h0M521.1 343.3h0M476.4 345.0h0M503.4 232.3h0M473.2 334.0h0M501.3 345.4h0M437.0 335.4h0M482.6 318.1h0M538.4 196.9h0M475.0 344.6h0M503.1 337.5h0M483.4 317.4h0M577.3 303.2h0M527.5 202.3h0M505.2 335.7h0M477.6 334.1h0M556.0 264.6h0M496.7 318.7h0M544.8 300.4h0M573.2 260.1h0M585.8 326.0h0M489.1 318.7h0M566.1 324.3h0M556.7 278.6h0M561.3 282.9h0M560.2 306.5h0M502.1 315.6h0M501.6 338.8h0M575.3 319.9h0M488.7 298.0h0M551.9 278.7h0M482.1 339.5h0M548.7 313.7h0M564.0 306.6h0M490.7 339.2h0M481.1 288.8h0M576.6 340.6h0M504.1 329.0h0M578.6 299.5h0M497.2 305.9h0M568.2 314.9h0M565.5 268.4h0M566.6 311.5h0M486.1 306.3h0M523.3 331.3h0M548.9 338.6h0M562.9 268.6h0M498.1 333.9h0M528.3 224.6h0M485.1 341.0h0M576.2 308.5h0M547.1 346.4h0M476.8 332.3h0M541.5 313.8h0M549.8 268.0h0M541.5 346.5h0M471.0 300.5h0M584.0 292.9h0M582.9 298.8h0M500.6 325.3h0M450.1 341.5h0M522.8 230.0h0M546.1 286.4h0M541.1 335.7h0M491.1 222.7h0M559.0 325.7h0M543.5 327.8h0M475.5 334.9h0M532.9 327.9h0M571.4 325.3h0M470.4 321.0h0M555.3 288.6h0M504.8 335.1h0M561.3 305.5h0M497.4 320.1h0M550.5 343.9h0M490.2 334.2h0M550.1 288.4h0M477.1 341.4h0M575.0 229.3h0M568.7 264.3h0M549.9 301.7h0M544.6 318.4h0M563.9 254.2h0M487.0 302.5h0M548.6 284.9h0M444.4 342.0h0M553.4 335.9h0M484.4 345.5h0M497.0 239.6h0M541.9 296.7h0M532.2 342.2h0M519.1 335.8h0M551.3 301.0h0M489.1 324.6h0M486.6 323.6h0M481.2 335.0h0M485.8 313.1h0M571.2 341.3h0M558.7 300.4h0M571.8 317.4h0M501.0 313.9h0M503.8 326.8h0M469.1 317.6h0M565.4 337.3h0M546.5 336.8h0M501.6 317.8h0M577.0 336.8h0M586.7 310.5h0M487.0 335.8h0M438.3 346.6h0M548.3 245.5h0M544.6 197.4h0M550.0 340.5h0M523.4 201.7h0M464.0 333.3h0M548.7 327.5h0M506.7 313.2h0M561.5 288.8h0M563.0 300.5h0M475.5 334.4h0M545.2 344.4h0M530.4 229.6h0M442.6 336.1h0M506.1 343.6h0M505.0 340.1h0M551.7 256.8h0M565.3 327.2h0M536.2 329.2h0M563.8 294.8h0M502.0 330.7h0M568.0 337.7h0M495.1 303.9h0M552.4 276.2h0M473.6 346.4h0M479.5 335.5h0M485.9 343.2h0M548.3 332.5h0M543.4 328.9h0M462.8 343.8h0M520.1 330.3h0M588.8 293.3h0M550.4 294.4h0M558.7 290.3h0M501.0 310.5h0M447.3 339.7h0M551.4 256.9h0M482.0 327.1h0M564.5 346.7h0M498.3 217.3h0M480.4 335.3h0M567.2 314.4h0M486.3 328.5h0M486.2 316.2h0M546.1 308.8h0M547.7 256.0h0M520.6 335.9h0M545.1 320.3h0M474.6 325.1h0M518.2 329.1h0M547.2 275.2h0M547.6 315.9h0M579.3 330.3h0M584.1 319.6h0M525.6 206.9h0M574.6 343.1h0M588.4 345.6h0M543.4 339.0h0M497.3 346.4h0M490.1 344.1h0M522.2 320.5h0M559.6 304.9h0M529.5 336.9h0M586.2 306.7h0M534.8 341.7h0M551.2 308.8h0M486.6 312.8h0M559.1 329.6h0M587.2 342.2h0M564.7 319.5h0M583.0 316.5h0M553.0 306.8h0M554.3 346.4h0M553.9 317.7h0M474.9 331.9h0M577.5 281.8h0M495.3 340.7h0M497.8 330.2h0M570.8 339.9h0M494.4 343.3h0M498.9 311.1h0M470.7 346.9h0M502.4 319.5h0M554.1 251.8h0M474.4 332.2h0M586.9 284.0h0M535.0 220.2h0M557.5 267.3h0M459.6 333.2h0M568.9 298.3h0M476.1 325.4h0M559.5 268.4h0M499.5 293.2h0M502.3 250.2h0M489.9 336.3h0M546.6 276.9h0M490.6 342.5h0M587.3 324.3h0M580.1 323.3h0M572.5 296.9h0M487.1 329.4h0M503.8 340.2h0M487.0 336.2h0M483.3 328.7h0M552.4 329.2h0M554.1 310.8h0M527.5 190.4h0M542.9 299.2h0M560.0 337.1h0M566.2 332.2h0M574.0 341.4h0M567.6 316.0h0M486.5 311.1h0M533.9 323.0h0M574.7 316.8h0M466.3 345.7h0M480.4 341.7h0M585.5 310.9h0M576.5 253.9h0M568.4 340.9h0M477.3 298.8h0M496.0 295.8h0M455.8 341.2h0M500.3 333.2h0M547.0 345.3h0M539.9 336.4h0M563.3 342.7h0M587.3 284.7h0M564.8 317.9h0M584.9 285.5h0M528.8 222.9h0M457.7 344.6h0M562.3 336.8h0M492.9 307.6h0M558.3 301.1h0M519.9 202.3h0M532.9 344.4h0M505.3 341.5h0M478.4 321.1h0M483.1 298.9h0M544.8 319.0h0M535.4 323.7h0M477.2 307.8h0M550.2 299.2h0M497.8 322.6h0M534.5 345.3h0M484.8 344.8h0M472.8 343.5h0M483.4 300.3h0M474.5 336.1h0M474.0 330.6h0M531.5 324.7h0M581.5 337.9h0M528.9 329.5h0M535.4 321.7h0M483.9 318.5h0M556.8 326.0h0M583.2 281.5h0M555.9 306.7h0M480.9 332.3h0M494.4 346.8h0M547.0 319.8h0M545.8 340.5h0M568.1 300.7h0M564.4 310.1h0M554.1 267.0h0M489.1 322.9h0M448.5 338.8h0M570.5 287.7h0M544.4 326.7h0M539.9 197.5h0M550.0 313.6h0M543.9 343.7h0M505.1 317.5h0M574.5 318.4h0M551.8 303.4h0M572.7 323.3h0M486.6 338.6h0M587.8 316.5h0M554.2 326.7h0M532.1 213.9h0M560.0 302.8h0M551.4 286.6h0M486.4 345.2h0M581.7 319.3h0M551.7 317.2h0M554.1 252.1h0M540.0 319.8h0M504.4 346.0h0M472.0 327.6h0M576.6 346.3h0M552.7 264.9h0M580.8 279.5h0M512.2 205.2h0M484.2 338.2h0M487.4 335.6h0M561.3 293.2h0M575.6 304.6h0M482.7 346.5h0M546.0 254.7h0M559.7 282.2h0M549.5 241.8h0M484.2 332.6h0M575.1 300.4h0M474.5 338.0h0M483.3 330.3h0M573.9 295.2h0M547.3 277.4h0M457.4 331.0h0M483.8 321.1h0M528.1 327.0h0M536.7 330.7h0M485.5 320.4h0M502.1 269.5h0M544.0 327.7h0M483.2 314.9h0M491.2 317.6h0M566.7 283.3h0M556.7 300.0h0M492.8 332.9h0M497.9 314.3h0M486.4 333.9h0M557.8 266.2h0M504.0 346.6h0M552.4 314.8h0M485.8 317.9h0M498.0 345.5h0M506.7 306.6h0M544.8 289.2h0M526.3 209.4h0M461.0 335.7h0M525.9 331.1h0M497.2 327.0h0M486.8 325.2h0M554.7 293.0h0M497.5 342.2h0M502.7 333.4h0M463.6 311.3h0M532.1 346.3h0M501.3 294.1h0M527.0 319.5h0M487.0 293.7h0M436.2 346.1h0M455.0 342.2h0M506.6 344.3h0M547.2 252.3h0M524.4 320.4h0M566.5 287.8h0M545.8 258.9h0M488.8 306.6h0M563.6 329.1h0M500.2 346.2h0M514.1 203.7h0M496.7 324.0h0M550.8 338.6h0M570.8 302.3h0M573.4 293.1h0M556.3 309.2h0M526.7 335.4h0M538.8 207.9h0M493.7 334.5h0M483.0 305.1h0M486.9 341.8h0M582.3 324.4h0M554.3 285.2h0M529.9 194.5h0M480.2 325.0h0M545.0 331.3h0M550.6 311.1h0M584.4 343.8h0M504.6 327.5h0M500.5 328.3h0M569.7 268.7h0M528.2 342.6h0M535.2 332.2h0M574.6 332.3h0M544.3 319.8h0M500.7 320.2h0M487.3 341.7h0M486.0 326.2h0M588.4 325.4h0M491.4 339.9h0M547.0 307.7h0M505.6 320.1h0M517.5 187.0h0M558.7 306.9h0M576.9 318.4h0M485.7 300.6h0M588.5 334.7h0M572.8 303.4h0M498.4 331.8h0M486.0 285.0h0M531.2 334.9h0M481.8 328.4h0M496.6 213.3h0M522.0 320.4h0M586.1 299.8h0M486.4 338.0h0M548.3 320.7h0M520.9 344.8h0M560.4 338.7h0M588.7 316.5h0M484.6 304.3h0M476.5 322.2h0M585.2 309.9h0M589.0 339.4h0M569.7 298.1h0M439.8 342.7h0M579.2 299.0h0M531.4 224.1h0M480.5 321.4h0M555.6 316.0h0M574.2 310.4h0M545.4 320.7h0M563.0 285.6h0M562.5 289.0h0M540.6 335.4h0M467.3 314.4h0M545.2 265.3h0M520.2 320.3h0M550.0 254.4h0M525.0 200.7h0M546.5 254.2h0M482.5 330.0h0M433.4 344.5h0M487.8 332.6h0M439.1 337.2h0M475.6 331.3h0M491.8 331.2h0M586.0 293.6h0M526.9 214.9h0M484.5 308.0h0M587.9 334.6h0M484.6 327.6h0M578.1 297.4h0M589.2 344.0h0M587.8 326.4h0M551.3 325.7h0M576.8 289.3h0M567.6 323.8h0M489.0 311.7h0M575.0 338.2h0M501.1 328.0h0M435.2 336.0h0M561.4 290.5h0M493.9 304.9h0M549.7 292.1h0M561.5 300.3h0M486.1 322.7h0M544.5 341.2h0M487.0 336.4h0M526.8 202.5h0M496.6 324.8h0M498.4 344.2h0M544.2 269.0h0M556.9 285.7h0M523.0 345.6h0M578.3 314.3h0M533.2 337.0h0M461.2 330.3h0M551.4 327.4h0M481.7 321.5h0M493.8 304.5h0M541.6 331.0h0M552.6 329.8h0M565.2 340.9h0M525.7 335.6h0M493.2 339.9h0M504.7 338.4h0M582.8 296.3h0M550.9 265.3h0M578.0 309.2h0M575.9 288.4h0M560.4 313.9h0M562.5 243.3h0M573.4 341.9h0M494.5 334.5h0M549.5 329.4h0M536.5 319.5h0M575.3 299.0h0M499.2 322.6h0M520.4 334.2h0M504.6 330.6h0M487.2 327.9h0M544.7 322.3h0M475.4 340.6h0M484.3 301.6h0M458.6 339.3h0M490.7 292.5h0M495.7 282.6h0M571.2 308.1h0M468.7 335.8h0M522.6 213.7h0M579.5 316.2h0M549.7 240.1h0M530.6 319.5h0M489.1 331.2h0M489.0 323.7h0M487.5 316.2h0M487.8 346.0h0M550.2 322.9h0M571.5 253.4h0M434.6 342.8h0M566.5 335.0h0M479.2 337.3h0M534.8 335.8h0M580.9 322.5h0M537.2 341.6h0M445.4 343.2h0M544.1 288.3h0M550.6 270.4h0M557.5 276.4h0M485.4 287.3h0M487.4 311.9h0M570.4 298.8h0M551.5 312.5h0M497.7 320.3h0M483.4 297.8h0M520.4 343.4h0M548.1 323.8h0M579.1 310.3h0M566.4 299.1h0M541.4 337.9h0M484.8 336.7h0M500.2 346.0h0M552.7 334.4h0M567.9 324.6h0M473.4 323.7h0M547.6 280.9h0M516.5 208.8h0M564.8 325.0h0M459.6 342.3h0M502.2 332.9h0M572.1 337.4h0M585.0 344.9h0M556.2 342.1h0M504.2 341.5h0M498.1 343.4h0M560.5 275.1h0M497.8 345.0h0M481.0 327.0h0M475.8 336.0h0M535.8 344.7h0M545.9 287.8h0M538.0 322.8h0M568.4 310.5h0M570.8 332.2h0M500.8 326.2h0M512.2 194.9h0M481.4 341.5h0M583.5 308.1h0M549.9 284.9h0M551.3 310.1h0M487.9 340.2h0M523.3 332.5h0M546.9 316.2h0M471.1 328.7h0M484.9 311.0h0M584.5 338.9h0M493.4 338.8h0M485.0 338.6h0M528.0 318.2h0M541.5 297.2h0M556.0 309.7h0M486.8 319.1h0M579.5 295.2h0M579.0 314.9h0M520.9 189.1h0M535.4 345.8h0M537.3 346.2h0M531.4 201.9h0M571.9 316.9h0M575.4 292.5h0M532.0 341.2h0M576.6 306.7h0M549.3 300.1h0M482.6 316.7h0M503.9 248.8h0M482.7 321.7h0M525.1 211.1h0M547.4 256.5h0M489.6 321.1h0M500.8 209.1h0M582.8 321.2h0M492.3 344.3h0M554.5 244.8h0M548.7 235.8h0M565.9 286.0h0M498.6 338.9h0M498.7 341.1h0M502.8 314.0h0M494.3 344.4h0M588.6 290.4h0M490.9 327.1h0M487.7 323.5h0M478.6 314.6h0M558.7 302.0h0M521.2 338.8h0M530.6 218.9h0M560.7 288.6h0M560.1 302.9h0M561.2 261.3h0M547.5 244.5h0M580.0 259.5h0M519.6 340.4h0M492.1 331.0h0M458.9 335.7h0M484.0 315.3h0M504.7 301.5h0M522.8 320.1h0M498.2 260.6h0M566.4 321.7h0M466.5 334.3h0M555.8 308.9h0M575.2 319.9h0M498.0 345.2h0M496.0 345.5h0M570.8 266.0h0M560.0 299.1h0M565.8 285.0h0M476.9 323.9h0M586.1 340.4h0M573.2 305.3h0M492.4 339.3h0M576.3 332.9h0M524.1 208.0h0M548.7 265.8h0M586.6 340.4h0M575.8 328.6h0M544.9 262.1h0M541.3 336.9h0M485.5 304.7h0M556.1 310.7h0M554.7 308.7h0M548.6 293.9h0M501.0 248.4h0M469.8 342.7h0M565.8 291.9h0M504.5 326.2h0M527.9 339.8h0M505.6 334.4h0M559.0 314.1h0M522.8 330.2h0M553.1 334.9h0M586.5 332.6h0M443.9 338.1h0M487.0 341.7h0M582.8 346.6h0M538.2 229.6h0M566.7 308.5h0M483.8 340.2h0M501.6 326.5h0M523.2 221.9h0M560.8 311.3h0M500.7 344.5h0M571.4 309.5h0M526.4 228.2h0M522.8 326.4h0M542.6 328.0h0M530.3 218.4h0M553.5 341.4h0M496.0 318.8h0M571.8 346.6h0M550.8 323.8h0M456.7 327.3h0M473.9 312.0h0M464.9 343.3h0M571.4 334.0h0M559.1 310.0h0M501.6 342.6h0M581.1 299.0h0M511.4 189.4h0M441.4 341.5h0M525.0 345.6h0M491.5 332.6h0M543.4 340.9h0M520.5 327.1h0M586.8 304.3h0M475.8 343.5h0M531.0 207.4h0M561.1 278.8h0M560.7 280.2h0M571.6 289.7h0M484.0 336.6h0M541.4 342.9h0M576.0 295.1h0M586.1 308.4h0M540.0 214.1h0M537.4 320.3h0M557.4 303.9h0M564.6 332.0h0M497.5 231.5h0M580.9 289.8h0M567.7 299.2h0M533.5 227.8h0M586.6 319.5h0M554.8 330.1h0M568.0 312.2h0M522.7 222.0h0M576.6 328.3h0M565.5 244.8h0M562.4 326.1h0M481.4 339.3h0M477.8 314.8h0M556.5 300.3h0M484.6 346.7h0M459.0 327.0h0M570.2 291.3h0M568.0 312.9h0M542.1 316.5h0M538.3 320.4h0M550.8 287.3h0M563.7 306.8h0M538.7 328.2h0M475.2 343.3h0M566.1 300.6h0M467.4 339.5h0M482.9 332.3h0M534.4 337.5h0M564.6 291.6h0M549.8 312.6h0M556.2 275.7h0M581.8 340.7h0M471.0 320.4h0M502.1 298.3h0M574.1 296.6h0M506.4 316.9h0M500.4 340.2h0M551.1 214.3h0M501.0 338.9h0M521.9 332.7h0M556.1 318.5h0M498.6 333.1h0M569.2 303.9h0M494.3 318.8h0M556.0 281.9h0M544.6 291.5h0M546.5 273.3h0M485.6 345.4h0M547.8 277.1h0M549.5 307.2h0M522.8 325.5h0M478.4 317.1h0M486.0 319.7h0M530.2 341.6h0M471.2 292.5h0M500.4 336.2h0M485.3 314.2h0M533.1 324.2h0M576.9 321.9h0M526.1 195.7h0M487.5 338.9h0M568.5 294.9h0M550.5 280.3h0M487.6 334.0h0M565.1 325.7h0M477.7 342.1h0M556.6 308.2h0M566.5 291.8h0M501.6 315.0h0M545.0 301.0h0M505.9 334.2h0M475.9 329.4h0M475.3 315.1h0M506.9 290.4h0M442.2 339.4h0M451.1 331.2h0M552.5 274.9h0M485.6 319.8h0M431.5 342.2h0M551.5 266.2h0M580.6 337.6h0M541.9 341.3h0M577.5 299.5h0M515.4 195.4h0M578.3 304.7h0M549.7 298.8h0M549.5 290.7h0M551.2 279.3h0M495.9 291.3h0M576.9 274.4h0M487.3 303.4h0M524.7 196.8h0M554.8 249.1h0M476.0 325.3h0M589.1 327.6h0M474.2 324.1h0M495.8 303.8h0M500.4 345.1h0M542.4 290.9h0M551.6 332.2h0M532.9 196.4h0M489.8 328.3h0M490.0 304.4h0M561.7 314.1h0M539.3 325.8h0M547.6 275.7h0M543.3 203.0h0M576.3 304.8h0M562.5 287.8h0M487.8 296.8h0M495.6 327.0h0M558.4 325.5h0M522.9 341.1h0M471.0 329.4h0M584.5 338.8h0M538.1 321.4h0M485.9 341.9h0M582.3 306.0h0M544.5 323.7h0M435.0 345.9h0M536.4 192.5h0M499.1 305.7h0M488.5 301.7h0M530.3 341.6h0M542.5 295.3h0M486.3 328.4h0M545.7 267.0h0M483.5 343.7h0M489.2 345.8h0M557.2 278.1h0M482.7 342.2h0M571.7 307.8h0M489.7 316.4h0M550.6 251.3h0M546.7 295.4h0M484.0 340.7h0M567.2 317.1h0M485.5 341.8h0M488.0 309.4h0M477.5 325.0h0M523.0 323.7h0M487.9 322.5h0M531.3 346.8h0M564.5 285.8h0M562.0 260.1h0M554.6 269.6h0M520.5 205.6h0M487.5 297.3h0M544.9 322.2h0M528.0 325.7h0M467.7 332.8h0M551.7 331.0h0M535.5 339.4h0M557.6 327.8h0M553.8 258.5h0M482.1 321.5h0M547.8 287.0h0M573.1 310.4h0M527.8 229.3h0M467.7 332.2h0M537.7 201.5h0M505.9 333.3h0M490.2 331.8h0M486.4 339.1h0M486.6 314.9h0M507.0 296.8h0M545.3 253.3h0M521.6 220.7h0M478.4 343.2h0M543.0 226.4h0M464.6 318.4h0M539.6 346.1h0M576.1 303.7h0M523.5 334.7h0M484.4 314.5h0M532.3 214.2h0M563.8 297.0h0M584.3 339.4h0M495.1 336.0h0M547.2 291.3h0M558.8 302.0h0M517.4 192.4h0M486.5 333.7h0M526.8 196.8h0M495.7 305.0h0M581.1 295.7h0M565.5 343.3h0M517.0 226.5h0M477.5 315.7h0M576.4 321.6h0M568.5 318.2h0M588.7 343.2h0M481.2 322.0h0M496.5 339.0h0M588.4 308.5h0M584.6 303.9h0M475.9 337.0h0M446.0 343.8h0M549.8 293.7h0M545.7 343.3h0M586.3 336.2h0M492.7 309.3h0M463.1 340.8h0M503.8 311.5h0M587.9 292.4h0M548.1 273.3h0M503.8 332.6h0M567.6 332.4h0M588.9 308.9h0M526.1 327.8h0M490.2 317.5h0M444.8 345.1h0M551.1 253.1h0M588.4 312.5h0M520.4 340.9h0M576.7 300.3h0M504.4 312.9h0M555.2 269.0h0M462.8 327.1h0M544.0 343.9h0M549.2 315.2h0M559.2 318.0h0M491.1 319.6h0M548.6 247.1h0M580.4 340.7h0M555.3 257.6h0M482.2 346.0h0M583.5 346.7h0M520.0 334.3h0M501.9 298.3h0M554.5 328.9h0M491.5 321.7h0M522.5 339.3h0M546.1 280.8h0M521.5 332.9h0M589.0 326.8h0M562.9 317.8h0M478.1 342.7h0M451.1 332.6h0M467.2 332.1h0M520.0 339.2h0M503.4 340.2h0M568.0 269.9h0M585.4 343.2h0M581.2 310.6h0M483.6 337.9h0M578.9 323.4h0M558.7 291.4h0M484.5 314.9h0M548.6 332.3h0M551.3 258.1h0M494.7 323.8h0M457.8 319.2h0M452.9 339.0h0M490.3 296.6h0M477.2 344.2h0M581.7 336.2h0M452.9 323.5h0M471.9 340.4h0M566.8 269.2h0M486.1 347.0h0M568.3 314.5h0M569.3 343.3h0M503.5 340.4h0M505.3 335.6h0M481.0 292.4h0M586.1 345.6h0M566.9 317.6h0M454.4 342.8h0M569.9 331.8h0M568.7 296.7h0M550.2 330.1h0M579.5 293.6h0M545.1 324.0h0M485.8 338.0h0M491.5 275.1h0M490.2 238.5h0M577.2 317.6h0M469.6 326.8h0M580.1 288.0h0M498.7 335.9h0M527.5 337.7h0M487.5 344.1h0M547.7 276.1h0M588.6 293.1h0M519.6 334.9h0M489.9 334.5h0M539.0 318.3h0M553.6 326.1h0M575.6 290.1h0M480.4 327.7h0M556.1 264.0h0M486.9 324.5h0M461.8 341.2h0M580.5 314.2h0M566.5 316.5h0M566.3 343.0h0M505.3 318.2h0M484.2 314.0h0M453.5 323.8h0M562.6 274.9h0M501.3 319.2h0M521.8 330.7h0M443.8 331.4h0M465.4 320.4h0M482.2 317.2h0M483.8 324.7h0M550.0 282.5h0M528.2 339.3h0M499.8 345.7h0M433.4 333.8h0M581.1 334.5h0M496.4 346.0h0M477.6 310.2h0M532.4 320.0h0M495.1 334.7h0M542.1 332.7h0M560.3 334.6h0M523.8 336.0h0M506.5 339.7h0M504.5 342.8h0M479.9 316.6h0M545.2 326.6h0M574.9 318.9h0M527.7 204.5h0M474.3 333.8h0M497.6 266.1h0M562.3 340.2h0M447.2 343.5h0M483.4 335.8h0M542.9 287.8h0M486.7 340.2h0M561.0 287.4h0M559.0 272.2h0M530.9 330.9h0M541.4 342.4h0M498.2 342.5h0M542.0 324.1h0M529.2 217.2h0M533.0 341.5h0M584.3 296.3h0M542.3 341.4h0M521.3 339.6h0M504.3 344.8h0M457.5 341.5h0M487.0 339.5h0M545.4 253.6h0M540.8 228.2h0M534.9 324.9h0M465.0 342.1h0M530.9 322.8h0M469.8 339.5h0M585.6 313.3h0M573.0 231.6h0M555.0 288.4h0M535.2 335.8h0M486.5 306.0h0M490.4 334.3h0M551.6 309.7h0M473.8 314.3h0M558.0 315.5h0M545.3 345.9h0M480.9 333.4h0M486.7 310.9h0M436.7 345.2h0M481.7 318.4h0M552.4 288.3h0M535.8 318.1h0M548.9 282.5h0M469.1 326.6h0M469.8 343.4h0M589.0 288.1h0M550.9 323.8h0M562.8 319.3h0M551.2 251.0h0M467.0 342.9h0M483.2 299.0h0M458.1 344.6h0M480.3 343.7h0M478.9 346.3h0M573.3 298.6h0M496.8 318.6h0M543.6 315.2h0M566.3 328.7h0M477.0 312.3h0M501.6 326.2h0M491.9 214.0h0M452.5 343.5h0M487.1 328.6h0M530.7 325.3h0M492.5 270.2h0M467.3 344.1h0M560.1 308.4h0M487.9 331.1h0M487.2 306.2h0M486.0 313.0h0M573.2 338.6h0M496.3 327.4h0M480.8 311.2h0M559.9 307.0h0M553.8 270.4h0M487.4 335.3h0M487.0 333.5h0M544.1 262.1h0M472.0 343.8h0M530.1 201.5h0M557.4 277.0h0M581.4 337.5h0M493.2 305.2h0M518.2 203.8h0M529.1 337.7h0M530.0 333.3h0M530.1 201.3h0M582.8 336.5h0M539.3 321.5h0M575.1 323.2h0M453.7 331.2h0M543.8 341.4h0M450.1 341.8h0M492.8 311.0h0M560.6 308.3h0M490.8 294.0h0M486.5 322.0h0M467.0 343.6h0M535.6 223.5h0M488.1 340.2h0M574.3 312.6h0M588.0 260.6h0M552.5 328.4h0M554.5 318.5h0M483.0 346.3h0M558.1 301.6h0M493.4 327.0h0M578.0 309.6h0M447.2 325.0h0M445.4 336.9h0M501.5 266.0h0M494.2 332.2h0M466.9 344.1h0M518.8 335.4h0M565.7 283.5h0M451.9 342.4h0M482.8 293.6h0M486.2 333.9h0M553.6 339.9h0M588.3 335.5h0M486.3 337.7h0M475.5 345.7h0M505.1 295.9h0M533.5 324.8h0M564.9 281.4h0M547.9 308.9h0M567.5 288.8h0M494.1 334.3h0M547.8 328.9h0M489.0 339.5h0M436.9 345.0h0M569.1 322.4h0M499.3 333.2h0M576.5 320.6h0M555.1 305.7h0M571.2 315.1h0M556.9 314.8h0M572.6 319.3h0M543.9 308.2h0M436.9 345.6h0M586.6 313.2h0M486.4 313.0h0M467.2 331.4h0M472.0 334.1h0M519.5 340.8h0M543.2 342.6h0M487.9 322.2h0M539.7 339.4h0M492.2 216.8h0M500.5 336.2h0M574.9 332.0h0M496.6 320.5h0M574.9 344.7h0M570.0 315.8h0M586.0 329.5h0M538.6 217.3h0M542.9 228.9h0M498.7 326.4h0M576.0 304.9h0M545.3 259.8h0M484.1 331.6h0M480.2 335.5h0M576.8 346.4h0M487.1 300.4h0M520.1 328.6h0M459.4 322.7h0M483.8 345.4h0M568.4 304.9h0M556.4 347.0h0M434.2 333.3h0M562.3 344.1h0M472.2 323.2h0M582.8 298.2h0M521.5 210.2h0M494.4 301.0h0M549.8 300.5h0M557.5 310.6h0M502.0 337.4h0M543.5 288.1h0M556.0 316.4h0M561.3 260.6h0M583.2 286.6h0M566.1 287.5h0M490.6 325.8h0M548.6 331.5h0M449.6 332.5h0M472.9 323.5h0M456.3 339.6h0M429.2 336.4h0M551.2 305.7h0M481.3 296.3h0M541.9 336.3h0M493.7 276.5h0M582.4 266.5h0M575.6 336.6h0M551.1 337.6h0M565.3 309.0h0M545.3 306.9h0M567.5 341.1h0M497.1 310.9h0M494.8 307.4h0M565.6 333.7h0M559.0 312.6h0M587.2 321.0h0M543.9 303.4h0M480.0 344.2h0M579.5 318.1h0M477.7 309.6h0M588.4 309.0h0M548.0 223.3h0M479.8 338.0h0M461.5 332.3h0M480.4 322.7h0M504.3 318.7h0M486.3 320.6h0M546.4 333.7h0M550.8 294.7h0M556.5 341.3h0M537.7 319.5h0M480.3 338.4h0M529.5 320.1h0" stroke="#000" stroke-opacity="0.24" stroke-width="1.5" stroke-linecap="round" fill="none"/>
</g>
<path d="M508.5 347.0 L506.7 330.6 L504.6 318.0 L504.3 290.0 L504.1 260.0 L504.6 240.1 L505.7 226.7 L508.4 214.7 L512.4 207.8 L520.4 207.3 L523.7 209.4 L529.1 220.0 L537.8 228.7 L541.1 238.8 L543.8 248.1 L548.5 258.0 L549.8 276.7 L550.5 287.4 L555.0 294.1 L551.1 299.4 L547.8 310.0 L545.0 321.7 L535.3 328.0 L524.6 337.7 L520.0 347.0" fill="#fff" stroke="none"/>
<clipPath id="cin"><path d="M508.5 347.0 L506.7 330.6 L504.6 318.0 L504.3 290.0 L504.1 260.0 L504.6 240.1 L505.7 226.7 L508.4 214.7 L512.4 207.8 L520.4 207.3 L523.7 209.4 L529.1 220.0 L537.8 228.7 L541.1 238.8 L543.8 248.1 L548.5 258.0 L549.8 276.7 L550.5 287.4 L555.0 294.1 L551.1 299.4 L547.8 310.0 L545.0 321.7 L535.3 328.0 L524.6 337.7 L520.0 347.0 Z"/></clipPath>
<g clip-path="url(#cin)">
<rect x="508.00" y="217.00" width="8.17" height="8.18" fill="#000" stroke="none" stroke-width="1" fill-opacity="0.03"/>
<rect x="516.12" y="217.00" width="8.17" height="8.18" fill="#000" stroke="none" stroke-width="1" fill-opacity="0.05"/>
<rect x="508.00" y="225.12" width="8.17" height="8.18" fill="#000" stroke="none" stroke-width="1" fill-opacity="0.09"/>
<rect x="516.12" y="225.12" width="8.17" height="8.18" fill="#000" stroke="none" stroke-width="1" fill-opacity="0.14"/>
<rect x="508.00" y="233.25" width="8.17" height="8.18" fill="#000" stroke="none" stroke-width="1" fill-opacity="0.24"/>
<rect x="516.12" y="233.25" width="8.17" height="8.18" fill="#000" stroke="none" stroke-width="1" fill-opacity="0.33"/>
<rect x="508.00" y="241.38" width="8.17" height="8.18" fill="#000" stroke="none" stroke-width="1" fill-opacity="0.47"/>
<rect x="516.12" y="241.38" width="8.17" height="8.18" fill="#000" stroke="none" stroke-width="1" fill-opacity="0.57"/>
<rect x="508.00" y="249.50" width="8.17" height="8.18" fill="#000" stroke="none" stroke-width="1" fill-opacity="0.95"/>
<rect x="516.12" y="249.50" width="8.17" height="8.18" fill="#000" stroke="none" stroke-width="1" fill-opacity="0.9"/>
<rect x="508.00" y="257.62" width="8.17" height="8.18" fill="#000" stroke="none" stroke-width="1" fill-opacity="0.84"/>
<rect x="516.12" y="257.62" width="8.17" height="8.18" fill="#000" stroke="none" stroke-width="1" fill-opacity="0.8"/>
<rect x="508.00" y="265.75" width="8.17" height="8.18" fill="#000" stroke="none" stroke-width="1" fill-opacity="0.74"/>
<rect x="516.12" y="265.75" width="8.17" height="8.18" fill="#000" stroke="none" stroke-width="1" fill-opacity="0.7"/>
<rect x="508.00" y="273.88" width="8.17" height="8.18" fill="#000" stroke="none" stroke-width="1" fill-opacity="0.62"/>
<rect x="516.12" y="273.88" width="8.17" height="8.18" fill="#000" stroke="none" stroke-width="1" fill-opacity="0.58"/>
<rect x="508.00" y="282.00" width="8.17" height="8.18" fill="#000" stroke="none" stroke-width="1" fill-opacity="0.42"/>
<rect x="516.12" y="282.00" width="8.17" height="8.18" fill="#000" stroke="none" stroke-width="1" fill-opacity="0.38"/>
<rect x="508.00" y="290.12" width="8.17" height="8.18" fill="#000" stroke="none" stroke-width="1" fill-opacity="0.2"/>
<rect x="516.12" y="290.12" width="8.17" height="8.18" fill="#000" stroke="none" stroke-width="1" fill-opacity="0.17"/>
<rect x="508.00" y="298.25" width="8.17" height="8.18" fill="#000" stroke="none" stroke-width="1" fill-opacity="0.1"/>
<rect x="516.12" y="298.25" width="8.17" height="8.18" fill="#000" stroke="none" stroke-width="1" fill-opacity="0.09"/>
<rect x="508.00" y="306.38" width="8.17" height="8.18" fill="#000" stroke="none" stroke-width="1" fill-opacity="0.05"/>
<rect x="516.12" y="306.38" width="8.17" height="8.18" fill="#000" stroke="none" stroke-width="1" fill-opacity="0.04"/>
</g>
</g>
<rect x="488.50" y="184.50" width="55.75" height="162.50" fill="#0000ff" stroke="none" stroke-width="1" fill-opacity="0.2"/>
<rect x="426.50" y="259.30" width="162.80" height="25.40" fill="#ff0000" stroke="none" stroke-width="1" fill-opacity="0.2"/>
<g clip-path="url(#c2d)">
<path d="M508.5 347.0 L506.7 330.6 L504.6 318.0 L504.3 290.0 L504.1 260.0 L504.6 240.1 L505.7 226.7 L508.4 214.7 L512.4 207.8 L520.4 207.3 L523.7 209.4 L529.1 220.0 L537.8 228.7 L541.1 238.8 L543.8 248.1 L548.5 258.0 L549.8 276.7 L550.5 287.4 L555.0 294.1 L551.1 299.4 L547.8 310.0 L545.0 321.7 L535.3 328.0 L524.6 337.7 L520.0 347.0" fill="none" stroke="#000" stroke-width="1.7" stroke-linejoin="round"/>
<path d="M520.1 315.5 L512.0 314.6 L509.4 310.0 L508.4 303.5 L507.0 290.0 L506.4 260.0 L507.0 238.8 L508.4 228.1 L511.7 220.0 L519.7 216.0 L523.3 218.0 L525.7 226.7 L527.7 237.4 L529.1 246.8 L535.8 252.8 L536.4 256.7 L535.8 263.4 L539.1 276.7 L539.8 280.0 L537.5 286.0 L528.4 294.1 L527.1 302.1 L523.7 310.0 L521.4 313.5 Z" fill="none" stroke="#000" stroke-width="1.7" stroke-linejoin="round"/>
<path d="M519.7 235.4 L513.7 239.4 L510.4 245.4 L510.2 260.0 L511.7 285.4 L519.7 282.0 L523.4 281.0 L523.6 240.0 L521.5 235.4 Z" fill="none" stroke="#000" stroke-width="1.7" stroke-linejoin="round"/>
<path d="M511.6 254.5 L519.6 251.8 L522.6 252.4 L522.6 258.4 L518.2 258.4 Z" fill="none" stroke="#000" stroke-width="1.7" stroke-linejoin="round"/>
<circle cx="487.5" cy="335.6" r="1.6" fill="#111"/>
</g>
<line x1="521.00" y1="184.50" x2="521.00" y2="347.00" stroke="#0000ff" stroke-width="1.6" />
<line x1="426.50" y1="272.90" x2="589.30" y2="272.90" stroke="#ff0000" stroke-width="1.6" />
<rect x="426.50" y="184.50" width="162.80" height="162.50" fill="none" stroke="#111" stroke-width="1.1" />
<line x1="423.00" y1="188.75" x2="426.50" y2="188.75" stroke="#111" stroke-width="0.9" />
<text x="399.70" y="206.00" font-size="13.0" text-anchor="middle" fill="#1f1f1f" stroke="#1f1f1f" stroke-width="0.3" font-family='"Liberation Sans", sans-serif' textLength="37.22" lengthAdjust="spacingAndGlyphs" transform="rotate(-45 399.70 201.35)">0.040</text>
<line x1="423.00" y1="230.90" x2="426.50" y2="230.90" stroke="#111" stroke-width="0.9" />
<text x="399.70" y="248.15" font-size="13.0" text-anchor="middle" fill="#1f1f1f" stroke="#1f1f1f" stroke-width="0.3" font-family='"Liberation Sans", sans-serif' textLength="37.22" lengthAdjust="spacingAndGlyphs" transform="rotate(-45 399.70 243.50)">0.032</text>
<line x1="423.00" y1="273.00" x2="426.50" y2="273.00" stroke="#111" stroke-width="0.9" />
<text x="399.70" y="290.25" font-size="13.0" text-anchor="middle" fill="#1f1f1f" stroke="#1f1f1f" stroke-width="0.3" font-family='"Liberation Sans", sans-serif' textLength="37.22" lengthAdjust="spacingAndGlyphs" transform="rotate(-45 399.70 285.60)">0.024</text>
<line x1="423.00" y1="315.40" x2="426.50" y2="315.40" stroke="#111" stroke-width="0.9" />
<text x="399.70" y="332.65" font-size="13.0" text-anchor="middle" fill="#1f1f1f" stroke="#1f1f1f" stroke-width="0.3" font-family='"Liberation Sans", sans-serif' textLength="37.22" lengthAdjust="spacingAndGlyphs" transform="rotate(-45 399.70 328.00)">0.016</text>
<line x1="430.00" y1="347.00" x2="430.00" y2="350.50" stroke="#111" stroke-width="0.9" />
<text x="429.40" y="374.05" font-size="13.0" text-anchor="middle" fill="#1f1f1f" stroke="#1f1f1f" stroke-width="0.3" font-family='"Liberation Sans", sans-serif' textLength="28.95" lengthAdjust="spacingAndGlyphs" transform="rotate(-45 429.40 369.40)">0.42</text>
<line x1="473.60" y1="347.00" x2="473.60" y2="350.50" stroke="#111" stroke-width="0.9" />
<text x="473.00" y="374.05" font-size="13.0" text-anchor="middle" fill="#1f1f1f" stroke="#1f1f1f" stroke-width="0.3" font-family='"Liberation Sans", sans-serif' textLength="28.95" lengthAdjust="spacingAndGlyphs" transform="rotate(-45 473.00 369.40)">0.44</text>
<line x1="517.00" y1="347.00" x2="517.00" y2="350.50" stroke="#111" stroke-width="0.9" />
<text x="516.40" y="374.05" font-size="13.0" text-anchor="middle" fill="#1f1f1f" stroke="#1f1f1f" stroke-width="0.3" font-family='"Liberation Sans", sans-serif' textLength="28.95" lengthAdjust="spacingAndGlyphs" transform="rotate(-45 516.40 369.40)">0.46</text>
<line x1="560.30" y1="347.00" x2="560.30" y2="350.50" stroke="#111" stroke-width="0.9" />
<text x="559.70" y="374.05" font-size="13.0" text-anchor="middle" fill="#1f1f1f" stroke="#1f1f1f" stroke-width="0.3" font-family='"Liberation Sans", sans-serif' textLength="28.95" lengthAdjust="spacingAndGlyphs" transform="rotate(-45 559.70 369.40)">0.48</text>
<rect x="597.00" y="241.50" width="163.00" height="67.80" fill="#e6e6e6" stroke="none" stroke-width="1" />
<line x1="597.00" y1="271.60" x2="760.00" y2="271.60" stroke="#5a5a5a" stroke-width="1.3" />
<path d="M597.00 184.50 L598.70 184.50 L598.70 192.62 L598.70 192.62 L598.70 200.75 L604.20 200.75 L604.20 208.88 L614.90 208.88 L614.90 217.00 L642.30 217.00 L642.30 225.12 L668.50 225.12 L668.50 233.25 L697.70 233.25 L697.70 241.38 L721.40 241.38 L721.40 249.50 L748.30 249.50 L748.30 257.62 L745.00 257.62 L745.00 265.75 L752.00 265.75 L752.00 273.88 L737.00 273.88 L737.00 282.00 L722.90 282.00 L722.90 290.12 L699.70 290.12 L699.70 298.25 L682.20 298.25 L682.20 306.38 L663.00 306.38 L663.00 314.50 L656.80 314.50 L656.80 322.62 L645.30 322.62 L645.30 330.75 L644.30 330.75 L644.30 338.88 L640.30 338.88 L640.30 347.00 L597.00 347.00" fill="none" stroke="#151515" stroke-width="1.35"/>
<rect x="597.00" y="184.50" width="162.60" height="162.50" fill="none" stroke="#111" stroke-width="1.1" />
<line x1="593.50" y1="188.75" x2="597.00" y2="188.75" stroke="#111" stroke-width="0.9" />
<line x1="593.50" y1="241.50" x2="597.00" y2="241.50" stroke="#111" stroke-width="0.9" />
<line x1="593.50" y1="294.30" x2="597.00" y2="294.30" stroke="#111" stroke-width="0.9" />
<line x1="597.50" y1="347.00" x2="597.50" y2="350.50" stroke="#111" stroke-width="0.9" />
<line x1="656.60" y1="347.00" x2="656.60" y2="350.50" stroke="#111" stroke-width="0.9" />
<line x1="715.90" y1="347.00" x2="715.90" y2="350.50" stroke="#111" stroke-width="0.9" />
<text x="507.7" y="411" font-size="20.8" text-anchor="middle" fill="#1f1f1f" stroke="#1f1f1f" stroke-width="0.3" font-family='"Liberation Sans", sans-serif' textLength="129" lengthAdjust="spacingAndGlyphs"><tspan font-style="italic">T</tspan><tspan font-size="14.5" dy="3.5" font-style="italic">c</tspan><tspan dy="-3.5"> - 2459133</tspan></text>
<text x="0" y="0" font-size="21" text-anchor="middle" fill="#1f1f1f" stroke="#1f1f1f" stroke-width="0.35" font-family='"Liberation Sans", sans-serif' font-style="italic" textLength="50.5" lengthAdjust="spacingAndGlyphs" transform="translate(370.4 266.2) rotate(-90)">R<tspan font-size="14.7" dy="3.5">p</tspan><tspan dy="-3.5">/R</tspan><tspan font-size="14.7" dy="3.5">s</tspan></text>
<text x="557.40" y="446.20" font-size="14.4" text-anchor="middle" fill="#222" font-family='"Liberation Serif", serif' textLength="17.60" lengthAdjust="spacingAndGlyphs" >(b)</text>
</svg>
</body></html>
